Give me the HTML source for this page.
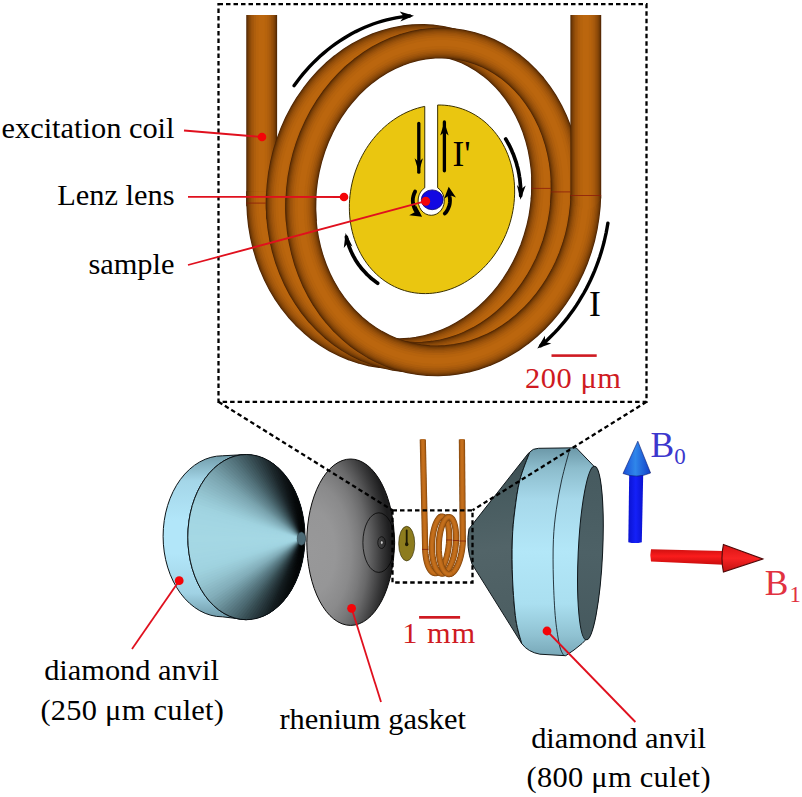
<!DOCTYPE html>
<html><head><meta charset="utf-8"><title>Lenz lens NMR setup</title>
<style>html,body{margin:0;padding:0;background:#fff}svg{display:block}text{font-family:"Liberation Serif",serif}</style></head>
<body>
<svg width="802" height="797" viewBox="0 0 802 797">
<rect width="802" height="797" fill="#fff"/>
<defs>
<linearGradient id="gGirdleL" x1="0" y1="0" x2="0" y2="1">
<stop offset="0" stop-color="#6f9aa8"/><stop offset="0.16" stop-color="#a4d6e8"/><stop offset="0.4" stop-color="#b2e6f9"/><stop offset="0.6" stop-color="#b2e6f9"/><stop offset="0.84" stop-color="#a0d2e4"/><stop offset="1" stop-color="#6c96a4"/>
</linearGradient>
<linearGradient id="gGirdleR" gradientUnits="userSpaceOnUse" x1="0" y1="447" x2="0" y2="656">
<stop offset="0" stop-color="#6a96a6"/><stop offset="0.1" stop-color="#8cbccc"/><stop offset="0.25" stop-color="#a6d8ea"/><stop offset="0.5" stop-color="#b3e7f8"/><stop offset="0.75" stop-color="#aadff0"/><stop offset="0.9" stop-color="#90c2d2"/><stop offset="1" stop-color="#78a8b8"/>
</linearGradient>
<radialGradient id="gGasket" gradientUnits="userSpaceOnUse" cx="312" cy="552" r="78" gradientTransform="translate(312 552) scale(1 1.75) translate(-312 -552)">
<stop offset="0.00" stop-color="#989899"/><stop offset="0.30" stop-color="#969697"/><stop offset="0.50" stop-color="#8a8a8b"/><stop offset="0.62" stop-color="#7a7a7b"/><stop offset="0.72" stop-color="#686869"/><stop offset="0.81" stop-color="#505051"/><stop offset="0.90" stop-color="#373738"/><stop offset="1.00" stop-color="#1e1e1f"/>
</radialGradient>
<linearGradient id="gConeR" gradientUnits="userSpaceOnUse" x1="470" y1="450" x2="500" y2="650">
<stop offset="0" stop-color="#34464a"/><stop offset="0.25" stop-color="#485c60"/><stop offset="0.5" stop-color="#526468"/><stop offset="1" stop-color="#4a5c60"/>
</linearGradient>
<linearGradient id="gTableR" gradientUnits="userSpaceOnUse" x1="0" y1="466" x2="0" y2="640">
<stop offset="0" stop-color="#465a5f"/><stop offset="0.5" stop-color="#4d6166"/><stop offset="1" stop-color="#46595e"/>
</linearGradient>
<linearGradient id="gBlueHead" x1="0" y1="0" x2="1" y2="0">
<stop offset="0" stop-color="#1a4fd8"/><stop offset="0.45" stop-color="#2f86ea"/><stop offset="1" stop-color="#1240c8"/>
</linearGradient>
<linearGradient id="gBlueShaft" x1="0" y1="0" x2="1" y2="0">
<stop offset="0" stop-color="#0a12d0"/><stop offset="0.5" stop-color="#1420f8"/><stop offset="1" stop-color="#0a12d0"/>
</linearGradient>
<linearGradient id="gRedShaft" x1="0" y1="0" x2="0" y2="1">
<stop offset="0" stop-color="#d01010"/><stop offset="0.45" stop-color="#fa1c1c"/><stop offset="1" stop-color="#c80c0c"/>
</linearGradient>
<linearGradient id="gRedHead" x1="0" y1="0" x2="0" y2="1">
<stop offset="0" stop-color="#d81414"/><stop offset="0.5" stop-color="#f82424"/><stop offset="1" stop-color="#c01010"/>
</linearGradient>
</defs>
<path d="M437.65 105.01 L441.25 105.04 L444.84 105.24 L448.40 105.62 L451.92 106.19 L455.41 106.93 L458.86 107.85 L462.25 108.94 L465.59 110.21 L468.86 111.65 L472.06 113.25 L475.18 115.02 L478.23 116.96 L481.18 119.05 L484.04 121.29 L486.80 123.68 L489.45 126.22 L492.00 128.90 L494.42 131.71 L496.73 134.65 L498.92 137.71 L500.98 140.90 L502.90 144.19 L504.69 147.59 L506.34 151.09 L507.85 154.69 L509.21 158.36 L510.43 162.12 L511.49 165.95 L512.41 169.84 L513.17 173.78 L513.77 177.78 L514.22 181.82 L514.51 185.89 L514.64 189.98 L514.61 194.10 L514.42 198.22 L514.08 202.35 L513.58 206.47 L512.92 210.58 L512.11 214.66 L511.15 218.72 L510.03 222.74 L508.77 226.71 L507.35 230.63 L505.80 234.49 L504.10 238.29 L502.26 242.01 L500.29 245.64 L498.19 249.19 L495.96 252.64 L493.61 256.00 L491.14 259.24 L488.56 262.37 L485.87 265.37 L483.07 268.25 L480.18 271.00 L477.20 273.61 L474.13 276.08 L470.98 278.40 L467.75 280.57 L464.46 282.59 L461.10 284.44 L457.69 286.13 L454.23 287.66 L450.72 289.02 L447.18 290.20 L443.61 291.21 L440.02 292.05 L436.42 292.70 L432.80 293.18 L429.19 293.48 L425.58 293.60 L421.98 293.54 L418.40 293.29 L414.84 292.87 L411.32 292.27 L407.84 291.49 L404.41 290.53 L401.03 289.40 L397.70 288.09 L394.45 286.62 L391.26 284.98 L388.15 283.17 L385.13 281.21 L382.20 279.09 L379.36 276.81 L376.62 274.39 L373.99 271.82 L371.47 269.11 L369.07 266.27 L366.79 263.30 L364.63 260.21 L362.60 257.00 L360.70 253.68 L358.94 250.26 L357.32 246.74 L355.84 243.13 L354.51 239.44 L353.33 235.67 L352.30 231.82 L351.42 227.92 L350.69 223.96 L350.12 219.96 L349.71 215.91 L349.45 211.83 L349.36 207.73 L349.42 203.62 L349.64 199.49 L350.01 195.36 L350.55 191.25 L351.24 187.14 L352.08 183.06 L353.08 179.02 L354.23 175.01 L355.53 171.04 L356.97 167.13 L358.56 163.29 L360.29 159.51 L362.15 155.81 L364.15 152.19 L366.28 148.66 L368.54 145.23 L370.91 141.90 L373.41 138.68 L376.01 135.58 L378.73 132.60 L381.54 129.75 L384.45 127.03 L387.45 124.45 L390.54 122.01 L393.71 119.72 L396.95 117.58 L400.26 115.60 L403.63 113.78 L407.05 112.12 L410.52 110.63 L414.03 109.31 L417.58 108.17 L421.16 107.19 L424.75 106.40 L424.75 187.81 A13.10 14.70 0 1 0 437.65 187.81 Z" fill="#eac610" stroke="#3a3000" stroke-width="1" stroke-linejoin="miter"/>
<ellipse cx="432.2" cy="199.8" rx="10.9" ry="9.9" fill="#1208e2" stroke="#0a0470" stroke-width="0.8"/>
<path d="M261.7 206.2 L261.7 15.0" fill="none" stroke="#4c2403" stroke-width="30.82" stroke-linecap="butt" stroke-linejoin="round"/>
<path d="M261.7 206.2 L261.7 15.0" fill="none" stroke="#623105" stroke-width="29.58" stroke-linecap="butt" stroke-linejoin="round"/>
<path d="M261.7 206.2 L261.7 15.0" fill="none" stroke="#723b07" stroke-width="28.04" stroke-linecap="butt" stroke-linejoin="round"/>
<path d="M261.7 206.2 L261.7 15.0" fill="none" stroke="#814408" stroke-width="26.19" stroke-linecap="butt" stroke-linejoin="round"/>
<path d="M261.7 206.2 L261.7 15.0" fill="none" stroke="#8e4b09" stroke-width="24.04" stroke-linecap="butt" stroke-linejoin="round"/>
<path d="M261.7 206.2 L261.7 15.0" fill="none" stroke="#9a520b" stroke-width="21.57" stroke-linecap="butt" stroke-linejoin="round"/>
<path d="M261.7 206.2 L261.7 15.0" fill="none" stroke="#a4580c" stroke-width="18.80" stroke-linecap="butt" stroke-linejoin="round"/>
<path d="M261.7 206.2 L261.7 15.0" fill="none" stroke="#ae5e0d" stroke-width="15.41" stroke-linecap="butt" stroke-linejoin="round"/>
<path d="M261.7 206.2 L261.7 15.0" fill="none" stroke="#b6630d" stroke-width="11.40" stroke-linecap="butt" stroke-linejoin="round"/>
<path d="M261.7 206.2 L261.7 15.0" fill="none" stroke="#bb660e" stroke-width="6.16" stroke-linecap="butt" stroke-linejoin="round"/>
<path d="M546.6 176.5 L546.7 187.1 L546.3 197.6 L545.2 208.2 L543.6 218.6 L541.3 229.0 L538.4 239.3 L535.0 249.3 L530.9 259.2 L526.4 268.7 L521.2 277.9 L515.6 286.8 L509.5 295.2 L502.9 303.2 L495.9 310.7 L488.5 317.7 L480.7 324.1 L472.6 330.0 L464.2 335.3 L455.5 340.0 L446.6 344.0 L437.5 347.3 L428.2 350.0 L418.9 351.9 L409.5 353.2 L400.1 353.7 L390.6 353.6 L381.3 352.7 L372.0 351.2 L362.9 348.9 L354.0 345.9 L345.3 342.3 L336.8 338.0 L328.7 333.1 L320.8 327.6 L313.4 321.4 L306.3 314.7 L299.7 307.5 L293.5 299.7 L287.8 291.5 L282.6 282.9 L278.0 273.8 L273.9 264.4 L270.4 254.7 L267.4 244.7 L265.1 234.6 L263.3 224.2 L262.2 213.7 L261.7 203.1 L261.7 191.2" fill="none" stroke="#4c2403" stroke-width="30.82" stroke-linecap="butt" stroke-linejoin="round"/>
<path d="M546.6 176.5 L546.7 187.1 L546.3 197.6 L545.2 208.2 L543.6 218.6 L541.3 229.0 L538.4 239.3 L535.0 249.3 L530.9 259.2 L526.4 268.7 L521.2 277.9 L515.6 286.8 L509.5 295.2 L502.9 303.2 L495.9 310.7 L488.5 317.7 L480.7 324.1 L472.6 330.0 L464.2 335.3 L455.5 340.0 L446.6 344.0 L437.5 347.3 L428.2 350.0 L418.9 351.9 L409.5 353.2 L400.1 353.7 L390.6 353.6 L381.3 352.7 L372.0 351.2 L362.9 348.9 L354.0 345.9 L345.3 342.3 L336.8 338.0 L328.7 333.1 L320.8 327.6 L313.4 321.4 L306.3 314.7 L299.7 307.5 L293.5 299.7 L287.8 291.5 L282.6 282.9 L278.0 273.8 L273.9 264.4 L270.4 254.7 L267.4 244.7 L265.1 234.6 L263.3 224.2 L262.2 213.7 L261.7 203.1 L261.7 191.2" fill="none" stroke="#623105" stroke-width="29.58" stroke-linecap="butt" stroke-linejoin="round"/>
<path d="M546.6 176.5 L546.7 187.1 L546.3 197.6 L545.2 208.2 L543.6 218.6 L541.3 229.0 L538.4 239.3 L535.0 249.3 L530.9 259.2 L526.4 268.7 L521.2 277.9 L515.6 286.8 L509.5 295.2 L502.9 303.2 L495.9 310.7 L488.5 317.7 L480.7 324.1 L472.6 330.0 L464.2 335.3 L455.5 340.0 L446.6 344.0 L437.5 347.3 L428.2 350.0 L418.9 351.9 L409.5 353.2 L400.1 353.7 L390.6 353.6 L381.3 352.7 L372.0 351.2 L362.9 348.9 L354.0 345.9 L345.3 342.3 L336.8 338.0 L328.7 333.1 L320.8 327.6 L313.4 321.4 L306.3 314.7 L299.7 307.5 L293.5 299.7 L287.8 291.5 L282.6 282.9 L278.0 273.8 L273.9 264.4 L270.4 254.7 L267.4 244.7 L265.1 234.6 L263.3 224.2 L262.2 213.7 L261.7 203.1 L261.7 191.2" fill="none" stroke="#723b07" stroke-width="28.04" stroke-linecap="butt" stroke-linejoin="round"/>
<path d="M546.6 176.5 L546.7 187.1 L546.3 197.6 L545.2 208.2 L543.6 218.6 L541.3 229.0 L538.4 239.3 L535.0 249.3 L530.9 259.2 L526.4 268.7 L521.2 277.9 L515.6 286.8 L509.5 295.2 L502.9 303.2 L495.9 310.7 L488.5 317.7 L480.7 324.1 L472.6 330.0 L464.2 335.3 L455.5 340.0 L446.6 344.0 L437.5 347.3 L428.2 350.0 L418.9 351.9 L409.5 353.2 L400.1 353.7 L390.6 353.6 L381.3 352.7 L372.0 351.2 L362.9 348.9 L354.0 345.9 L345.3 342.3 L336.8 338.0 L328.7 333.1 L320.8 327.6 L313.4 321.4 L306.3 314.7 L299.7 307.5 L293.5 299.7 L287.8 291.5 L282.6 282.9 L278.0 273.8 L273.9 264.4 L270.4 254.7 L267.4 244.7 L265.1 234.6 L263.3 224.2 L262.2 213.7 L261.7 203.1 L261.7 191.2" fill="none" stroke="#814408" stroke-width="26.19" stroke-linecap="butt" stroke-linejoin="round"/>
<path d="M546.6 176.5 L546.7 187.1 L546.3 197.6 L545.2 208.2 L543.6 218.6 L541.3 229.0 L538.4 239.3 L535.0 249.3 L530.9 259.2 L526.4 268.7 L521.2 277.9 L515.6 286.8 L509.5 295.2 L502.9 303.2 L495.9 310.7 L488.5 317.7 L480.7 324.1 L472.6 330.0 L464.2 335.3 L455.5 340.0 L446.6 344.0 L437.5 347.3 L428.2 350.0 L418.9 351.9 L409.5 353.2 L400.1 353.7 L390.6 353.6 L381.3 352.7 L372.0 351.2 L362.9 348.9 L354.0 345.9 L345.3 342.3 L336.8 338.0 L328.7 333.1 L320.8 327.6 L313.4 321.4 L306.3 314.7 L299.7 307.5 L293.5 299.7 L287.8 291.5 L282.6 282.9 L278.0 273.8 L273.9 264.4 L270.4 254.7 L267.4 244.7 L265.1 234.6 L263.3 224.2 L262.2 213.7 L261.7 203.1 L261.7 191.2" fill="none" stroke="#8e4b09" stroke-width="24.04" stroke-linecap="butt" stroke-linejoin="round"/>
<path d="M546.6 176.5 L546.7 187.1 L546.3 197.6 L545.2 208.2 L543.6 218.6 L541.3 229.0 L538.4 239.3 L535.0 249.3 L530.9 259.2 L526.4 268.7 L521.2 277.9 L515.6 286.8 L509.5 295.2 L502.9 303.2 L495.9 310.7 L488.5 317.7 L480.7 324.1 L472.6 330.0 L464.2 335.3 L455.5 340.0 L446.6 344.0 L437.5 347.3 L428.2 350.0 L418.9 351.9 L409.5 353.2 L400.1 353.7 L390.6 353.6 L381.3 352.7 L372.0 351.2 L362.9 348.9 L354.0 345.9 L345.3 342.3 L336.8 338.0 L328.7 333.1 L320.8 327.6 L313.4 321.4 L306.3 314.7 L299.7 307.5 L293.5 299.7 L287.8 291.5 L282.6 282.9 L278.0 273.8 L273.9 264.4 L270.4 254.7 L267.4 244.7 L265.1 234.6 L263.3 224.2 L262.2 213.7 L261.7 203.1 L261.7 191.2" fill="none" stroke="#9a520b" stroke-width="21.57" stroke-linecap="butt" stroke-linejoin="round"/>
<path d="M546.6 176.5 L546.7 187.1 L546.3 197.6 L545.2 208.2 L543.6 218.6 L541.3 229.0 L538.4 239.3 L535.0 249.3 L530.9 259.2 L526.4 268.7 L521.2 277.9 L515.6 286.8 L509.5 295.2 L502.9 303.2 L495.9 310.7 L488.5 317.7 L480.7 324.1 L472.6 330.0 L464.2 335.3 L455.5 340.0 L446.6 344.0 L437.5 347.3 L428.2 350.0 L418.9 351.9 L409.5 353.2 L400.1 353.7 L390.6 353.6 L381.3 352.7 L372.0 351.2 L362.9 348.9 L354.0 345.9 L345.3 342.3 L336.8 338.0 L328.7 333.1 L320.8 327.6 L313.4 321.4 L306.3 314.7 L299.7 307.5 L293.5 299.7 L287.8 291.5 L282.6 282.9 L278.0 273.8 L273.9 264.4 L270.4 254.7 L267.4 244.7 L265.1 234.6 L263.3 224.2 L262.2 213.7 L261.7 203.1 L261.7 191.2" fill="none" stroke="#a4580c" stroke-width="18.80" stroke-linecap="butt" stroke-linejoin="round"/>
<path d="M546.6 176.5 L546.7 187.1 L546.3 197.6 L545.2 208.2 L543.6 218.6 L541.3 229.0 L538.4 239.3 L535.0 249.3 L530.9 259.2 L526.4 268.7 L521.2 277.9 L515.6 286.8 L509.5 295.2 L502.9 303.2 L495.9 310.7 L488.5 317.7 L480.7 324.1 L472.6 330.0 L464.2 335.3 L455.5 340.0 L446.6 344.0 L437.5 347.3 L428.2 350.0 L418.9 351.9 L409.5 353.2 L400.1 353.7 L390.6 353.6 L381.3 352.7 L372.0 351.2 L362.9 348.9 L354.0 345.9 L345.3 342.3 L336.8 338.0 L328.7 333.1 L320.8 327.6 L313.4 321.4 L306.3 314.7 L299.7 307.5 L293.5 299.7 L287.8 291.5 L282.6 282.9 L278.0 273.8 L273.9 264.4 L270.4 254.7 L267.4 244.7 L265.1 234.6 L263.3 224.2 L262.2 213.7 L261.7 203.1 L261.7 191.2" fill="none" stroke="#ae5e0d" stroke-width="15.41" stroke-linecap="butt" stroke-linejoin="round"/>
<path d="M546.6 176.5 L546.7 187.1 L546.3 197.6 L545.2 208.2 L543.6 218.6 L541.3 229.0 L538.4 239.3 L535.0 249.3 L530.9 259.2 L526.4 268.7 L521.2 277.9 L515.6 286.8 L509.5 295.2 L502.9 303.2 L495.9 310.7 L488.5 317.7 L480.7 324.1 L472.6 330.0 L464.2 335.3 L455.5 340.0 L446.6 344.0 L437.5 347.3 L428.2 350.0 L418.9 351.9 L409.5 353.2 L400.1 353.7 L390.6 353.6 L381.3 352.7 L372.0 351.2 L362.9 348.9 L354.0 345.9 L345.3 342.3 L336.8 338.0 L328.7 333.1 L320.8 327.6 L313.4 321.4 L306.3 314.7 L299.7 307.5 L293.5 299.7 L287.8 291.5 L282.6 282.9 L278.0 273.8 L273.9 264.4 L270.4 254.7 L267.4 244.7 L265.1 234.6 L263.3 224.2 L262.2 213.7 L261.7 203.1 L261.7 191.2" fill="none" stroke="#b6630d" stroke-width="11.40" stroke-linecap="butt" stroke-linejoin="round"/>
<path d="M546.6 176.5 L546.7 187.1 L546.3 197.6 L545.2 208.2 L543.6 218.6 L541.3 229.0 L538.4 239.3 L535.0 249.3 L530.9 259.2 L526.4 268.7 L521.2 277.9 L515.6 286.8 L509.5 295.2 L502.9 303.2 L495.9 310.7 L488.5 317.7 L480.7 324.1 L472.6 330.0 L464.2 335.3 L455.5 340.0 L446.6 344.0 L437.5 347.3 L428.2 350.0 L418.9 351.9 L409.5 353.2 L400.1 353.7 L390.6 353.6 L381.3 352.7 L372.0 351.2 L362.9 348.9 L354.0 345.9 L345.3 342.3 L336.8 338.0 L328.7 333.1 L320.8 327.6 L313.4 321.4 L306.3 314.7 L299.7 307.5 L293.5 299.7 L287.8 291.5 L282.6 282.9 L278.0 273.8 L273.9 264.4 L270.4 254.7 L267.4 244.7 L265.1 234.6 L263.3 224.2 L262.2 213.7 L261.7 203.1 L261.7 191.2" fill="none" stroke="#bb660e" stroke-width="6.16" stroke-linecap="butt" stroke-linejoin="round"/>
<path d="M281.8 218.5 L281.2 207.7 L281.3 196.8 L282.0 186.0 L283.3 175.1 L285.3 164.4 L287.8 153.9 L291.1 143.6 L294.9 133.5 L299.2 123.7 L304.2 114.3 L309.6 105.3 L315.6 96.7 L322.0 88.5 L328.9 80.9 L336.2 73.9 L343.9 67.4 L351.9 61.6 L360.2 56.3 L368.7 51.8 L377.5 47.9 L386.5 44.8 L395.6 42.3 L404.7 40.6 L414.0 39.6 L423.2 39.4 L432.4 39.9 L441.4 41.2 L450.4 43.2 L459.2 45.9 L467.7 49.3 L476.0 53.4 L484.1 58.2 L491.7 63.7 L499.0 69.7 L505.9 76.4 L512.3 83.7 L518.3 91.4 L523.8 99.7 L528.7 108.4 L533.1 117.6 L536.9 127.1 L540.1 137.0 L542.7 147.1 L544.6 157.4 L546.0 168.0 L546.7 178.7 L546.7 189.4 L546.1 200.2" fill="none" stroke="#4c2403" stroke-width="30.82" stroke-linecap="butt" stroke-linejoin="round"/>
<path d="M281.8 218.5 L281.2 207.7 L281.3 196.8 L282.0 185.9 L283.3 175.0 L285.3 164.3 L287.9 153.8 L291.1 143.4 L294.9 133.3 L299.3 123.5 L304.3 114.1 L309.8 105.0 L315.8 96.4 L322.2 88.3 L329.1 80.7 L336.5 73.7 L344.2 67.2 L352.2 61.3 L360.5 56.1 L369.1 51.6 L377.9 47.8 L386.9 44.6 L396.0 42.2 L405.2 40.5 L414.5 39.6 L423.7 39.4 L432.9 40.0 L442.0 41.3 L451.0 43.3 L459.8 46.1 L468.3 49.6 L476.6 53.7 L484.6 58.6 L492.3 64.1 L499.6 70.2 L506.4 77.0 L512.8 84.3 L518.8 92.1 L524.2 100.4 L529.1 109.2 L533.4 118.4 L537.2 128.0 L540.3 137.9 L542.9 148.1 L544.8 158.5 L546.1 169.1 L546.7 179.8 L546.7 190.6 L546.0 201.4" fill="none" stroke="#623105" stroke-width="29.58" stroke-linecap="butt" stroke-linejoin="round"/>
<path d="M281.8 218.5 L281.2 207.7 L281.3 196.7 L282.0 185.8 L283.3 174.9 L285.3 164.2 L287.9 153.6 L291.2 143.2 L295.0 133.1 L299.4 123.3 L304.4 113.9 L309.9 104.8 L315.9 96.2 L322.4 88.1 L329.4 80.5 L336.7 73.4 L344.4 67.0 L352.5 61.1 L360.9 55.9 L369.5 51.4 L378.3 47.6 L387.3 44.5 L396.5 42.1 L405.7 40.5 L415.0 39.6 L424.2 39.4 L433.4 40.0 L442.6 41.4 L451.5 43.5 L460.3 46.3 L468.9 49.8 L477.2 54.1 L485.2 59.0 L492.8 64.5 L500.1 70.7 L507.0 77.5 L513.4 84.9 L519.3 92.8 L524.7 101.2 L529.5 110.0 L533.8 119.3 L537.5 128.9 L540.6 138.9 L543.1 149.1 L544.9 159.6 L546.2 170.2 L546.7 180.9 L546.6 191.8 L545.9 202.6" fill="none" stroke="#723b07" stroke-width="28.04" stroke-linecap="butt" stroke-linejoin="round"/>
<path d="M281.8 218.5 L281.2 207.6 L281.3 196.7 L282.0 185.7 L283.3 174.8 L285.3 164.1 L288.0 153.5 L291.2 143.1 L295.1 132.9 L299.5 123.1 L304.5 113.7 L310.1 104.6 L316.1 96.0 L322.6 87.8 L329.6 80.2 L337.0 73.2 L344.7 66.7 L352.8 60.9 L361.2 55.7 L369.9 51.2 L378.7 47.4 L387.8 44.4 L396.9 42.0 L406.2 40.4 L415.5 39.5 L424.8 39.4 L434.0 40.1 L443.1 41.5 L452.1 43.6 L460.9 46.5 L469.5 50.1 L477.8 54.4 L485.8 59.4 L493.4 65.0 L500.7 71.2 L507.5 78.1 L513.9 85.5 L519.7 93.5 L525.1 101.9 L529.9 110.9 L534.2 120.2 L537.8 129.9 L540.9 139.9 L543.3 150.1 L545.1 160.6 L546.2 171.3 L546.7 182.1 L546.6 192.9 L545.8 203.8" fill="none" stroke="#814408" stroke-width="26.19" stroke-linecap="butt" stroke-linejoin="round"/>
<path d="M281.8 218.5 L281.2 207.6 L281.3 196.6 L282.0 185.7 L283.3 174.8 L285.4 164.0 L288.0 153.3 L291.3 142.9 L295.2 132.8 L299.6 122.9 L304.6 113.4 L310.2 104.4 L316.3 95.7 L322.8 87.6 L329.8 80.0 L337.2 73.0 L345.0 66.5 L353.1 60.7 L361.6 55.5 L370.3 51.1 L379.1 47.3 L388.2 44.2 L397.4 41.9 L406.7 40.3 L416.0 39.5 L425.3 39.5 L434.5 40.1 L443.7 41.6 L452.7 43.8 L461.5 46.7 L470.1 50.4 L478.4 54.7 L486.3 59.7 L494.0 65.4 L501.2 71.8 L508.0 78.7 L514.4 86.2 L520.2 94.2 L525.5 102.7 L530.3 111.7 L534.5 121.0 L538.1 130.8 L541.1 140.8 L543.5 151.1 L545.2 161.7 L546.3 172.4 L546.8 183.2 L546.5 194.1 L545.6 205.0" fill="none" stroke="#8e4b09" stroke-width="24.04" stroke-linecap="butt" stroke-linejoin="round"/>
<path d="M281.8 218.5 L281.2 207.6 L281.3 196.6 L282.0 185.6 L283.4 174.7 L285.4 163.8 L288.0 153.2 L291.3 142.7 L295.2 132.6 L299.7 122.7 L304.8 113.2 L310.3 104.1 L316.4 95.5 L323.0 87.4 L330.0 79.8 L337.5 72.7 L345.3 66.3 L353.5 60.5 L361.9 55.3 L370.6 50.9 L379.6 47.1 L388.7 44.1 L397.9 41.8 L407.2 40.3 L416.5 39.5 L425.8 39.5 L435.1 40.2 L444.2 41.7 L453.2 43.9 L462.1 46.9 L470.6 50.6 L478.9 55.0 L486.9 60.1 L494.5 65.9 L501.7 72.3 L508.5 79.3 L514.9 86.8 L520.7 94.9 L526.0 103.5 L530.7 112.5 L534.9 121.9 L538.4 131.7 L541.4 141.8 L543.7 152.2 L545.4 162.8 L546.4 173.5 L546.8 184.4 L546.5 195.3 L545.5 206.2" fill="none" stroke="#9a520b" stroke-width="21.57" stroke-linecap="butt" stroke-linejoin="round"/>
<path d="M281.8 218.5 L281.2 207.6 L281.3 196.5 L282.0 185.5 L283.4 174.6 L285.4 163.7 L288.1 153.0 L291.4 142.6 L295.3 132.4 L299.8 122.5 L304.9 113.0 L310.5 103.9 L316.6 95.3 L323.2 87.1 L330.3 79.5 L337.8 72.5 L345.6 66.1 L353.8 60.3 L362.3 55.2 L371.0 50.7 L380.0 47.0 L389.1 44.0 L398.3 41.7 L407.7 40.2 L417.0 39.5 L426.3 39.5 L435.6 40.3 L444.8 41.8 L453.8 44.1 L462.6 47.1 L471.2 50.9 L479.5 55.4 L487.5 60.5 L495.1 66.3 L502.3 72.8 L509.1 79.8 L515.4 87.4 L521.1 95.6 L526.4 104.2 L531.1 113.3 L535.2 122.8 L538.7 132.6 L541.6 142.8 L543.9 153.2 L545.5 163.8 L546.5 174.6 L546.8 185.5 L546.4 196.4 L545.3 207.4" fill="none" stroke="#a4580c" stroke-width="18.80" stroke-linecap="butt" stroke-linejoin="round"/>
<path d="M281.8 218.5 L281.2 207.5 L281.3 196.5 L282.0 185.4 L283.4 174.5 L285.4 163.6 L288.1 152.9 L291.5 142.4 L295.4 132.2 L299.9 122.3 L305.0 112.8 L310.6 103.7 L316.8 95.1 L323.4 86.9 L330.5 79.3 L338.0 72.3 L345.9 65.9 L354.1 60.1 L362.6 55.0 L371.4 50.5 L380.4 46.8 L389.5 43.9 L398.8 41.6 L408.1 40.2 L417.5 39.5 L426.9 39.5 L436.2 40.3 L445.3 41.9 L454.4 44.3 L463.2 47.4 L471.8 51.2 L480.1 55.7 L488.0 60.9 L495.6 66.8 L502.8 73.3 L509.6 80.4 L515.8 88.1 L521.6 96.3 L526.8 105.0 L531.5 114.1 L535.6 123.7 L539.0 133.6 L541.9 143.8 L544.1 154.2 L545.6 164.9 L546.5 175.7 L546.8 186.6 L546.3 197.6 L545.2 208.6" fill="none" stroke="#ae5e0d" stroke-width="15.41" stroke-linecap="butt" stroke-linejoin="round"/>
<path d="M281.8 218.5 L281.2 207.5 L281.3 196.4 L282.0 185.4 L283.4 174.4 L285.5 163.5 L288.2 152.8 L291.5 142.3 L295.5 132.0 L300.0 122.1 L305.1 112.6 L310.8 103.5 L317.0 94.8 L323.6 86.7 L330.7 79.1 L338.3 72.0 L346.2 65.6 L354.4 59.9 L363.0 54.8 L371.8 50.4 L380.8 46.7 L390.0 43.7 L399.3 41.5 L408.6 40.1 L418.0 39.4 L427.4 39.5 L436.7 40.4 L445.9 42.1 L454.9 44.5 L463.8 47.6 L472.4 51.5 L480.6 56.1 L488.6 61.3 L496.2 67.3 L503.4 73.8 L510.1 81.0 L516.3 88.7 L522.1 97.0 L527.3 105.8 L531.9 114.9 L535.9 124.5 L539.3 134.5 L542.1 144.7 L544.3 155.3 L545.8 166.0 L546.6 176.8 L546.7 187.8 L546.2 198.8 L545.0 209.8" fill="none" stroke="#b6630d" stroke-width="11.40" stroke-linecap="butt" stroke-linejoin="round"/>
<path d="M281.8 218.5 L281.2 207.5 L281.3 196.4 L282.0 185.3 L283.4 174.3 L285.5 163.3 L288.2 152.6 L291.6 142.1 L295.5 131.8 L300.1 121.9 L305.2 112.4 L310.9 103.3 L317.1 94.6 L323.8 86.5 L331.0 78.8 L338.5 71.8 L346.5 65.4 L354.8 59.7 L363.3 54.6 L372.2 50.2 L381.2 46.5 L390.4 43.6 L399.7 41.5 L409.1 40.1 L418.5 39.4 L427.9 39.6 L437.3 40.5 L446.5 42.2 L455.5 44.6 L464.3 47.8 L472.9 51.8 L481.2 56.4 L489.2 61.7 L496.7 67.7 L503.9 74.4 L510.6 81.6 L516.8 89.4 L522.5 97.7 L527.7 106.5 L532.3 115.8 L536.2 125.4 L539.6 135.4 L542.4 145.7 L544.4 156.3 L545.9 167.0 L546.6 177.9 L546.7 188.9 L546.1 199.9 L544.9 210.9" fill="none" stroke="#bb660e" stroke-width="6.16" stroke-linecap="butt" stroke-linejoin="round"/>
<path d="M566.1 180.1 L566.3 190.8 L565.8 201.6 L564.7 212.4 L562.9 223.2 L560.5 233.8 L557.5 244.3 L553.9 254.5 L549.7 264.5 L544.9 274.2 L539.5 283.6 L533.6 292.5 L527.2 301.0 L520.4 309.1 L513.0 316.6 L505.3 323.6 L497.2 330.0 L488.8 335.7 L480.1 340.9 L471.1 345.4 L461.9 349.2 L452.5 352.2 L443.0 354.6 L433.4 356.2 L423.7 357.1 L414.1 357.3 L404.5 356.7 L395.0 355.4 L385.6 353.3 L376.4 350.5 L367.4 347.0 L358.7 342.8 L350.2 337.9 L342.1 332.4 L334.4 326.3 L327.1 319.5 L320.2 312.2 L313.8 304.3 L308.0 296.0 L302.6 287.2 L297.8 277.9 L293.6 268.3 L289.9 258.4 L286.9 248.2 L284.5 237.8 L282.8 227.2 L281.6 216.4 L281.2 205.5 L281.3 194.7" fill="none" stroke="#4c2403" stroke-width="30.82" stroke-linecap="butt" stroke-linejoin="round"/>
<path d="M566.1 180.1 L566.3 190.9 L565.8 201.7 L564.7 212.5 L562.9 223.3 L560.5 233.9 L557.5 244.4 L553.8 254.7 L549.6 264.7 L544.7 274.4 L539.4 283.8 L533.5 292.7 L527.0 301.3 L520.1 309.3 L512.8 316.8 L505.1 323.8 L496.9 330.2 L488.5 336.0 L479.7 341.1 L470.7 345.5 L461.4 349.3 L452.0 352.4 L442.5 354.7 L432.9 356.3 L423.2 357.2 L413.5 357.3 L403.9 356.6 L394.4 355.3 L385.0 353.1 L375.8 350.3 L366.8 346.7 L358.0 342.5 L349.6 337.6 L341.5 332.0 L333.8 325.8 L326.5 318.9 L319.7 311.6 L313.3 303.6 L307.5 295.2 L302.1 286.4 L297.4 277.1 L293.2 267.4 L289.6 257.5 L286.7 247.2 L284.3 236.7 L282.6 226.0 L281.6 215.2 L281.2 204.4 L281.4 193.5" fill="none" stroke="#623105" stroke-width="29.58" stroke-linecap="butt" stroke-linejoin="round"/>
<path d="M566.1 180.1 L566.3 190.9 L565.8 201.7 L564.7 212.6 L562.9 223.4 L560.5 234.0 L557.4 244.5 L553.8 254.8 L549.5 264.9 L544.6 274.6 L539.2 284.0 L533.3 293.0 L526.9 301.5 L519.9 309.5 L512.6 317.1 L504.8 324.0 L496.6 330.4 L488.1 336.2 L479.3 341.3 L470.3 345.7 L461.0 349.5 L451.6 352.5 L442.0 354.8 L432.4 356.4 L422.7 357.2 L413.0 357.3 L403.3 356.6 L393.8 355.2 L384.4 353.0 L375.2 350.1 L366.2 346.5 L357.4 342.2 L349.0 337.2 L340.9 331.5 L333.2 325.2 L326.0 318.4 L319.1 310.9 L312.8 302.9 L307.0 294.5 L301.7 285.5 L297.0 276.2 L292.8 266.5 L289.3 256.5 L286.4 246.2 L284.1 235.6 L282.5 224.9 L281.5 214.1 L281.2 203.2 L281.5 192.3" fill="none" stroke="#723b07" stroke-width="28.04" stroke-linecap="butt" stroke-linejoin="round"/>
<path d="M566.1 180.1 L566.3 190.9 L565.8 201.8 L564.7 212.7 L562.9 223.5 L560.4 234.2 L557.4 244.7 L553.7 255.0 L549.4 265.1 L544.5 274.8 L539.1 284.2 L533.1 293.2 L526.7 301.7 L519.7 309.8 L512.3 317.3 L504.5 324.3 L496.3 330.6 L487.8 336.4 L479.0 341.5 L469.9 345.9 L460.6 349.6 L451.1 352.6 L441.5 354.9 L431.8 356.4 L422.1 357.2 L412.4 357.2 L402.8 356.5 L393.2 355.0 L383.8 352.8 L374.6 349.9 L365.6 346.2 L356.8 341.8 L348.4 336.8 L340.3 331.1 L332.7 324.7 L325.4 317.8 L318.6 310.3 L312.3 302.2 L306.5 293.7 L301.3 284.7 L296.6 275.3 L292.5 265.6 L289.0 255.5 L286.1 245.1 L283.9 234.6 L282.3 223.8 L281.4 213.0 L281.2 202.0 L281.5 191.1" fill="none" stroke="#814408" stroke-width="26.19" stroke-linecap="butt" stroke-linejoin="round"/>
<path d="M566.1 180.1 L566.3 190.9 L565.8 201.8 L564.6 212.7 L562.9 223.6 L560.4 234.3 L557.3 244.8 L553.6 255.2 L549.3 265.2 L544.4 275.0 L539.0 284.4 L533.0 293.4 L526.5 301.9 L519.5 310.0 L512.1 317.5 L504.2 324.5 L496.0 330.9 L487.5 336.6 L478.6 341.7 L469.5 346.1 L460.2 349.8 L450.7 352.7 L441.0 355.0 L431.3 356.5 L421.6 357.2 L411.9 357.2 L402.2 356.4 L392.6 354.9 L383.2 352.7 L374.0 349.7 L364.9 345.9 L356.2 341.5 L347.8 336.4 L339.7 330.6 L332.1 324.2 L324.8 317.2 L318.1 309.6 L311.8 301.5 L306.0 293.0 L300.8 283.9 L296.2 274.5 L292.1 264.6 L288.7 254.5 L285.9 244.1 L283.7 233.5 L282.2 222.7 L281.4 211.8 L281.2 200.8 L281.6 189.9" fill="none" stroke="#8e4b09" stroke-width="24.04" stroke-linecap="butt" stroke-linejoin="round"/>
<path d="M566.1 180.1 L566.3 191.0 L565.8 201.9 L564.6 212.8 L562.8 223.7 L560.4 234.4 L557.3 245.0 L553.6 255.3 L549.2 265.4 L544.3 275.2 L538.8 284.6 L532.8 293.6 L526.3 302.2 L519.3 310.2 L511.8 317.8 L504.0 324.7 L495.7 331.1 L487.1 336.8 L478.2 341.9 L469.1 346.2 L459.7 349.9 L450.2 352.9 L440.6 355.1 L430.8 356.5 L421.1 357.2 L411.3 357.2 L401.6 356.4 L392.0 354.8 L382.6 352.5 L373.4 349.4 L364.3 345.6 L355.6 341.2 L347.2 336.0 L339.2 330.2 L331.5 323.7 L324.3 316.6 L317.5 309.0 L311.3 300.8 L305.6 292.2 L300.4 283.1 L295.8 273.6 L291.8 263.7 L288.4 253.5 L285.7 243.1 L283.6 232.4 L282.1 221.6 L281.3 210.7 L281.2 199.7 L281.7 188.7" fill="none" stroke="#9a520b" stroke-width="21.57" stroke-linecap="butt" stroke-linejoin="round"/>
<path d="M566.1 180.1 L566.3 191.0 L565.8 201.9 L564.6 212.9 L562.8 223.8 L560.3 234.5 L557.2 245.1 L553.5 255.5 L549.2 265.6 L544.2 275.4 L538.7 284.8 L532.7 293.8 L526.1 302.4 L519.1 310.5 L511.6 318.0 L503.7 324.9 L495.4 331.3 L486.8 337.0 L477.9 342.1 L468.7 346.4 L459.3 350.1 L449.8 353.0 L440.1 355.2 L430.3 356.6 L420.5 357.3 L410.8 357.2 L401.1 356.3 L391.5 354.7 L382.0 352.3 L372.8 349.2 L363.7 345.4 L355.0 340.8 L346.6 335.6 L338.6 329.7 L330.9 323.2 L323.7 316.0 L317.0 308.4 L310.8 300.1 L305.1 291.4 L299.9 282.3 L295.4 272.7 L291.4 262.8 L288.1 252.5 L285.4 242.1 L283.4 231.4 L282.0 220.5 L281.3 209.5 L281.2 198.5 L281.8 187.5" fill="none" stroke="#a4580c" stroke-width="18.80" stroke-linecap="butt" stroke-linejoin="round"/>
<path d="M566.1 180.1 L566.3 191.0 L565.8 202.0 L564.6 213.0 L562.8 223.9 L560.3 234.6 L557.2 245.3 L553.4 255.7 L549.1 265.8 L544.1 275.6 L538.6 285.0 L532.5 294.1 L525.9 302.6 L518.9 310.7 L511.3 318.2 L503.4 325.2 L495.1 331.5 L486.4 337.2 L477.5 342.3 L468.3 346.6 L458.9 350.2 L449.3 353.1 L439.6 355.3 L429.8 356.7 L420.0 357.3 L410.2 357.1 L400.5 356.2 L390.9 354.6 L381.4 352.1 L372.2 349.0 L363.1 345.1 L354.4 340.5 L346.0 335.2 L338.0 329.2 L330.4 322.6 L323.2 315.5 L316.5 307.7 L310.3 299.4 L304.6 290.7 L299.5 281.4 L295.0 271.8 L291.1 261.8 L287.8 251.6 L285.2 241.0 L283.2 230.3 L281.9 219.4 L281.2 208.4 L281.2 197.3 L281.9 186.3" fill="none" stroke="#ae5e0d" stroke-width="15.41" stroke-linecap="butt" stroke-linejoin="round"/>
<path d="M566.1 180.1 L566.3 191.0 L565.8 202.0 L564.6 213.0 L562.8 224.0 L560.3 234.8 L557.1 245.4 L553.4 255.8 L549.0 266.0 L544.0 275.8 L538.5 285.2 L532.4 294.3 L525.7 302.8 L518.6 310.9 L511.1 318.4 L503.1 325.4 L494.8 331.7 L486.1 337.4 L477.1 342.4 L467.9 346.8 L458.4 350.4 L448.8 353.2 L439.1 355.3 L429.3 356.7 L419.5 357.3 L409.7 357.1 L399.9 356.2 L390.3 354.4 L380.8 352.0 L371.6 348.7 L362.5 344.8 L353.8 340.1 L345.4 334.8 L337.4 328.8 L329.8 322.1 L322.6 314.9 L316.0 307.0 L309.8 298.7 L304.2 289.9 L299.1 280.6 L294.6 270.9 L290.8 260.9 L287.6 250.6 L285.0 240.0 L283.1 229.2 L281.8 218.3 L281.2 207.2 L281.3 196.2 L282.0 185.1" fill="none" stroke="#b6630d" stroke-width="11.40" stroke-linecap="butt" stroke-linejoin="round"/>
<path d="M566.1 180.1 L566.3 191.1 L565.8 202.1 L564.6 213.1 L562.8 224.1 L560.2 234.9 L557.1 245.5 L553.3 256.0 L548.9 266.1 L543.9 276.0 L538.3 285.4 L532.2 294.5 L525.6 303.1 L518.4 311.1 L510.9 318.7 L502.9 325.6 L494.5 331.9 L485.8 337.6 L476.8 342.6 L467.5 346.9 L458.0 350.5 L448.4 353.4 L438.6 355.4 L428.8 356.8 L418.9 357.3 L409.1 357.1 L399.3 356.1 L389.7 354.3 L380.2 351.8 L371.0 348.5 L361.9 344.5 L353.2 339.8 L344.8 334.4 L336.8 328.3 L329.2 321.6 L322.1 314.3 L315.4 306.4 L309.3 298.0 L303.7 289.1 L298.7 279.8 L294.3 270.0 L290.5 260.0 L287.3 249.6 L284.8 238.9 L282.9 228.1 L281.7 217.1 L281.2 206.1 L281.3 195.0 L282.2 183.9" fill="none" stroke="#bb660e" stroke-width="6.16" stroke-linecap="butt" stroke-linejoin="round"/>
<path d="M301.4 222.1 L300.8 211.2 L300.8 200.4 L301.5 189.5 L302.8 178.7 L304.8 168.0 L307.4 157.4 L310.6 147.1 L314.4 137.0 L318.8 127.3 L323.7 117.8 L329.2 108.8 L335.1 100.2 L341.6 92.1 L348.4 84.5 L355.7 77.4 L363.4 71.0 L371.4 65.1 L379.7 59.9 L388.3 55.3 L397.1 51.5 L406.0 48.3 L415.1 45.9 L424.3 44.2 L433.5 43.2 L442.7 43.0 L451.9 43.5 L461.0 44.7 L469.9 46.7 L478.7 49.4 L487.3 52.8 L495.6 57.0 L503.6 61.8 L511.3 67.2 L518.5 73.3 L525.4 80.0 L531.9 87.2 L537.8 95.0 L543.3 103.3 L548.2 112.0 L552.6 121.1 L556.4 130.7 L559.6 140.5 L562.2 150.6 L564.2 161.0 L565.5 171.5 L566.2 182.2 L566.2 193.0 L565.6 203.8" fill="none" stroke="#4c2403" stroke-width="30.82" stroke-linecap="butt" stroke-linejoin="round"/>
<path d="M301.4 222.1 L300.8 211.2 L300.8 200.3 L301.5 189.4 L302.8 178.6 L304.8 167.9 L307.4 157.3 L310.6 146.9 L314.5 136.9 L318.9 127.1 L323.8 117.6 L329.3 108.6 L335.3 100.0 L341.8 91.9 L348.7 84.3 L356.0 77.2 L363.7 70.7 L371.7 64.9 L380.1 59.7 L388.7 55.2 L397.5 51.3 L406.4 48.2 L415.6 45.8 L424.8 44.1 L434.0 43.2 L443.2 43.0 L452.4 43.5 L461.5 44.8 L470.5 46.9 L479.3 49.6 L487.9 53.1 L496.2 57.3 L504.2 62.1 L511.8 67.6 L519.1 73.8 L526.0 80.5 L532.4 87.8 L538.3 95.7 L543.7 104.0 L548.6 112.8 L553.0 122.0 L556.7 131.6 L559.9 141.5 L562.4 151.6 L564.3 162.1 L565.6 172.6 L566.2 183.4 L566.2 194.2 L565.5 205.0" fill="none" stroke="#623105" stroke-width="29.58" stroke-linecap="butt" stroke-linejoin="round"/>
<path d="M301.4 222.1 L300.7 211.2 L300.8 200.3 L301.5 189.4 L302.9 178.5 L304.8 167.7 L307.5 157.2 L310.7 146.8 L314.5 136.7 L319.0 126.9 L323.9 117.4 L329.4 108.4 L335.5 99.8 L342.0 91.6 L348.9 84.0 L356.3 77.0 L364.0 70.5 L372.0 64.7 L380.4 59.5 L389.0 55.0 L397.9 51.2 L406.9 48.0 L416.0 45.7 L425.2 44.0 L434.5 43.1 L443.8 43.0 L453.0 43.6 L462.1 44.9 L471.1 47.0 L479.9 49.8 L488.4 53.4 L496.7 57.6 L504.7 62.5 L512.4 68.1 L519.7 74.3 L526.5 81.1 L532.9 88.5 L538.8 96.4 L544.2 104.7 L549.1 113.6 L553.3 122.9 L557.0 132.5 L560.2 142.4 L562.6 152.7 L564.5 163.1 L565.7 173.7 L566.3 184.5 L566.2 195.3 L565.4 206.2" fill="none" stroke="#723b07" stroke-width="28.04" stroke-linecap="butt" stroke-linejoin="round"/>
<path d="M301.4 222.1 L300.7 211.2 L300.8 200.2 L301.5 189.3 L302.9 178.4 L304.9 167.6 L307.5 157.0 L310.8 146.6 L314.6 136.5 L319.1 126.7 L324.1 117.2 L329.6 108.1 L335.6 99.5 L342.2 91.4 L349.1 83.8 L356.5 76.7 L364.3 70.3 L372.4 64.5 L380.8 59.3 L389.4 54.8 L398.3 51.0 L407.3 47.9 L416.5 45.6 L425.7 44.0 L435.0 43.1 L444.3 43.0 L453.5 43.6 L462.7 45.0 L471.6 47.2 L480.4 50.0 L489.0 53.6 L497.3 57.9 L505.3 62.9 L512.9 68.5 L520.2 74.8 L527.0 81.7 L533.4 89.1 L539.3 97.0 L544.6 105.5 L549.5 114.4 L553.7 123.7 L557.4 133.4 L560.4 143.4 L562.8 153.7 L564.6 164.2 L565.8 174.8 L566.3 185.6 L566.1 196.5 L565.3 207.4" fill="none" stroke="#814408" stroke-width="26.19" stroke-linecap="butt" stroke-linejoin="round"/>
<path d="M301.4 222.1 L300.7 211.1 L300.8 200.2 L301.5 189.2 L302.9 178.3 L304.9 167.5 L307.5 156.9 L310.8 146.5 L314.7 136.3 L319.2 126.5 L324.2 117.0 L329.7 107.9 L335.8 99.3 L342.4 91.2 L349.4 83.6 L356.8 76.5 L364.6 70.1 L372.7 64.3 L381.1 59.1 L389.8 54.6 L398.7 50.8 L407.8 47.8 L416.9 45.5 L426.2 43.9 L435.5 43.1 L444.8 43.0 L454.1 43.7 L463.2 45.1 L472.2 47.3 L481.0 50.3 L489.6 53.9 L497.9 58.3 L505.9 63.3 L513.5 69.0 L520.7 75.3 L527.6 82.2 L533.9 89.7 L539.7 97.7 L545.1 106.2 L549.9 115.2 L554.1 124.6 L557.7 134.3 L560.7 144.4 L563.0 154.7 L564.8 165.2 L565.9 175.9 L566.3 186.8 L566.1 197.7 L565.2 208.6" fill="none" stroke="#8e4b09" stroke-width="24.04" stroke-linecap="butt" stroke-linejoin="round"/>
<path d="M301.4 222.1 L300.7 211.1 L300.8 200.1 L301.5 189.1 L302.9 178.2 L304.9 167.4 L307.6 156.7 L310.9 146.3 L314.8 136.1 L319.2 126.3 L324.3 116.8 L329.9 107.7 L336.0 99.1 L342.6 90.9 L349.6 83.3 L357.0 76.3 L364.8 69.8 L373.0 64.0 L381.5 58.9 L390.2 54.4 L399.1 50.7 L408.2 47.7 L417.4 45.4 L426.7 43.8 L436.0 43.0 L445.4 43.0 L454.6 43.8 L463.8 45.3 L472.8 47.5 L481.6 50.5 L490.2 54.2 L498.5 58.6 L506.4 63.7 L514.1 69.4 L521.3 75.8 L528.1 82.8 L534.4 90.4 L540.2 98.4 L545.5 107.0 L550.3 116.0 L554.4 125.5 L558.0 135.2 L560.9 145.4 L563.2 155.7 L564.9 166.3 L565.9 177.0 L566.3 187.9 L566.0 198.8 L565.0 209.7" fill="none" stroke="#9a520b" stroke-width="21.57" stroke-linecap="butt" stroke-linejoin="round"/>
<path d="M301.4 222.1 L300.7 211.1 L300.8 200.1 L301.5 189.1 L302.9 178.1 L305.0 167.3 L307.6 156.6 L310.9 146.1 L314.8 135.9 L319.3 126.1 L324.4 116.6 L330.0 107.5 L336.2 98.8 L342.8 90.7 L349.8 83.1 L357.3 76.1 L365.1 69.6 L373.3 63.8 L381.8 58.7 L390.6 54.3 L399.5 50.5 L408.6 47.5 L417.9 45.3 L427.2 43.8 L436.5 43.0 L445.9 43.0 L455.2 43.8 L464.3 45.4 L473.3 47.7 L482.2 50.7 L490.7 54.5 L499.0 58.9 L507.0 64.1 L514.6 69.9 L521.8 76.3 L528.6 83.4 L534.9 91.0 L540.7 99.1 L545.9 107.8 L550.6 116.8 L554.8 126.3 L558.3 136.2 L561.2 146.3 L563.4 156.7 L565.1 167.4 L566.0 178.2 L566.3 189.0 L565.9 200.0 L564.9 210.9" fill="none" stroke="#a4580c" stroke-width="18.80" stroke-linecap="butt" stroke-linejoin="round"/>
<path d="M301.4 222.1 L300.7 211.1 L300.8 200.0 L301.5 189.0 L302.9 178.0 L305.0 167.1 L307.7 156.4 L311.0 146.0 L314.9 135.8 L319.4 125.9 L324.5 116.4 L330.2 107.3 L336.3 98.6 L343.0 90.5 L350.0 82.9 L357.5 75.8 L365.4 69.4 L373.6 63.6 L382.2 58.5 L390.9 54.1 L399.9 50.4 L409.1 47.4 L418.3 45.2 L427.7 43.7 L437.1 43.0 L446.4 43.1 L455.7 43.9 L464.9 45.5 L473.9 47.8 L482.7 50.9 L491.3 54.7 L499.6 59.3 L507.6 64.5 L515.2 70.3 L522.4 76.9 L529.1 84.0 L535.4 91.6 L541.1 99.8 L546.4 108.5 L551.0 117.7 L555.1 127.2 L558.6 137.1 L561.4 147.3 L563.6 157.8 L565.2 168.4 L566.1 179.3 L566.3 190.2 L565.8 201.1 L564.7 212.1" fill="none" stroke="#ae5e0d" stroke-width="15.41" stroke-linecap="butt" stroke-linejoin="round"/>
<path d="M301.4 222.1 L300.7 211.0 L300.8 200.0 L301.5 188.9 L302.9 177.9 L305.0 167.0 L307.7 156.3 L311.0 145.8 L315.0 135.6 L319.5 125.7 L324.7 116.1 L330.3 107.0 L336.5 98.4 L343.2 90.2 L350.3 82.6 L357.8 75.6 L365.7 69.2 L374.0 63.4 L382.5 58.3 L391.3 53.9 L400.3 50.2 L409.5 47.3 L418.8 45.1 L428.2 43.7 L437.6 43.0 L446.9 43.1 L456.2 44.0 L465.4 45.6 L474.5 48.0 L483.3 51.1 L491.9 55.0 L500.2 59.6 L508.1 64.9 L515.7 70.8 L522.9 77.4 L529.6 84.6 L535.9 92.3 L541.6 100.6 L546.8 109.3 L551.4 118.5 L555.4 128.1 L558.9 138.0 L561.7 148.3 L563.8 158.8 L565.3 169.5 L566.1 180.4 L566.3 191.3 L565.8 202.3 L564.6 213.3" fill="none" stroke="#b6630d" stroke-width="11.40" stroke-linecap="butt" stroke-linejoin="round"/>
<path d="M301.4 222.1 L300.7 211.0 L300.8 199.9 L301.6 188.8 L303.0 177.8 L305.0 166.9 L307.8 156.2 L311.1 145.6 L315.1 135.4 L319.6 125.5 L324.8 115.9 L330.5 106.8 L336.7 98.2 L343.4 90.0 L350.5 82.4 L358.1 75.4 L366.0 69.0 L374.3 63.2 L382.9 58.1 L391.7 53.7 L400.7 50.1 L409.9 47.2 L419.3 45.0 L428.7 43.6 L438.1 43.0 L447.5 43.1 L456.8 44.0 L466.0 45.7 L475.0 48.2 L483.9 51.4 L492.5 55.3 L500.8 60.0 L508.7 65.3 L516.3 71.3 L523.4 77.9 L530.1 85.1 L536.4 92.9 L542.1 101.3 L547.2 110.1 L551.8 119.3 L555.8 129.0 L559.2 139.0 L561.9 149.3 L564.0 159.8 L565.4 170.6 L566.2 181.5 L566.3 192.5 L565.7 203.5 L564.4 214.5" fill="none" stroke="#bb660e" stroke-width="6.16" stroke-linecap="butt" stroke-linejoin="round"/>
<path d="M585.8 195.5 L585.3 206.0 L584.1 216.6 L582.4 227.0 L580.1 237.4 L577.1 247.7 L573.6 257.7 L569.5 267.5 L564.8 277.0 L559.6 286.1 L553.9 294.9 L547.8 303.3 L541.1 311.2 L534.1 318.7 L526.6 325.6 L518.8 332.0 L510.6 337.8 L502.2 343.0 L493.5 347.6 L484.5 351.5 L475.4 354.8 L466.2 357.3 L456.8 359.2 L447.4 360.4 L438.0 360.9 L428.6 360.6 L419.2 359.7 L410.0 358.0 L400.9 355.7 L392.0 352.6 L383.3 348.9 L374.9 344.5 L366.8 339.5 L359.0 333.9 L351.6 327.7 L344.5 320.9 L338.0 313.6 L331.8 305.8 L326.2 297.6 L321.1 288.9 L316.5 279.8 L312.5 270.3 L309.0 260.6 L306.2 250.6 L303.9 240.4 L302.2 230.0 L301.1 219.4 L300.7 208.8 L300.9 198.2" fill="none" stroke="#4c2403" stroke-width="30.82" stroke-linecap="butt" stroke-linejoin="round"/>
<path d="M585.8 195.5 L585.3 206.0 L584.1 216.6 L582.4 227.1 L580.0 237.5 L577.1 247.8 L573.5 257.8 L569.4 267.6 L564.7 277.1 L559.5 286.3 L553.8 295.1 L547.6 303.5 L540.9 311.5 L533.8 318.9 L526.4 325.8 L518.5 332.2 L510.3 338.0 L501.8 343.2 L493.1 347.8 L484.1 351.7 L475.0 354.9 L465.7 357.4 L456.3 359.3 L446.9 360.4 L437.4 360.9 L428.0 360.6 L418.6 359.6 L409.4 357.9 L400.3 355.5 L391.4 352.4 L382.7 348.6 L374.3 344.2 L366.2 339.1 L358.4 333.5 L351.0 327.2 L344.0 320.4 L337.4 313.0 L331.3 305.1 L325.7 296.8 L320.7 288.0 L316.1 278.9 L312.1 269.4 L308.7 259.6 L305.9 249.6 L303.7 239.3 L302.1 228.9 L301.1 218.3 L300.7 207.7 L300.9 197.0" fill="none" stroke="#623105" stroke-width="29.58" stroke-linecap="butt" stroke-linejoin="round"/>
<path d="M585.8 195.5 L585.3 206.1 L584.1 216.7 L582.4 227.2 L580.0 237.6 L577.0 247.9 L573.5 258.0 L569.3 267.8 L564.6 277.3 L559.4 286.5 L553.7 295.3 L547.4 303.7 L540.7 311.7 L533.6 319.1 L526.1 326.1 L518.2 332.4 L510.0 338.2 L501.5 343.4 L492.7 347.9 L483.7 351.8 L474.5 355.0 L465.2 357.5 L455.8 359.4 L446.4 360.5 L436.9 360.9 L427.4 360.5 L418.1 359.5 L408.8 357.8 L399.7 355.3 L390.8 352.2 L382.1 348.3 L373.7 343.9 L365.6 338.7 L357.8 333.0 L350.4 326.7 L343.4 319.8 L336.9 312.3 L330.8 304.4 L325.3 296.0 L320.2 287.2 L315.7 278.0 L311.8 268.5 L308.4 258.6 L305.6 248.5 L303.5 238.2 L301.9 227.7 L301.0 217.2 L300.7 206.5 L301.0 195.8" fill="none" stroke="#723b07" stroke-width="28.04" stroke-linecap="butt" stroke-linejoin="round"/>
<path d="M585.8 195.5 L585.3 206.1 L584.1 216.7 L582.4 227.3 L580.0 237.7 L577.0 248.0 L573.4 258.1 L569.3 267.9 L564.5 277.5 L559.3 286.7 L553.5 295.5 L547.3 303.9 L540.5 311.9 L533.4 319.4 L525.9 326.3 L517.9 332.7 L509.7 338.4 L501.1 343.6 L492.3 348.1 L483.3 352.0 L474.1 355.2 L464.8 357.7 L455.3 359.4 L445.9 360.5 L436.4 360.9 L426.9 360.5 L417.5 359.4 L408.2 357.6 L399.1 355.1 L390.2 351.9 L381.5 348.0 L373.1 343.5 L365.0 338.3 L357.2 332.5 L349.8 326.1 L342.9 319.2 L336.4 311.7 L330.3 303.7 L324.8 295.3 L319.8 286.4 L315.3 277.1 L311.4 267.5 L308.1 257.6 L305.4 247.5 L303.3 237.1 L301.8 226.6 L300.9 216.0 L300.7 205.3 L301.1 194.6" fill="none" stroke="#814408" stroke-width="26.19" stroke-linecap="butt" stroke-linejoin="round"/>
<path d="M585.8 195.5 L585.3 206.1 L584.1 216.8 L582.3 227.3 L580.0 237.8 L576.9 248.1 L573.4 258.2 L569.2 268.1 L564.4 277.7 L559.2 286.9 L553.4 295.7 L547.1 304.2 L540.4 312.1 L533.2 319.6 L525.6 326.5 L517.6 332.9 L509.4 338.6 L500.8 343.8 L492.0 348.3 L482.9 352.1 L473.7 355.3 L464.3 357.8 L454.9 359.5 L445.4 360.5 L435.8 360.9 L426.3 360.5 L416.9 359.3 L407.6 357.5 L398.5 354.9 L389.6 351.7 L380.9 347.8 L372.5 343.2 L364.4 337.9 L356.6 332.1 L349.3 325.6 L342.3 318.6 L335.8 311.0 L329.8 303.0 L324.3 294.5 L319.4 285.6 L314.9 276.3 L311.1 266.6 L307.8 256.7 L305.2 246.5 L303.1 236.1 L301.7 225.5 L300.9 214.9 L300.7 204.1 L301.2 193.4" fill="none" stroke="#8e4b09" stroke-width="24.04" stroke-linecap="butt" stroke-linejoin="round"/>
<path d="M585.8 195.5 L585.3 206.1 L584.1 216.8 L582.3 227.4 L579.9 237.9 L576.9 248.2 L573.3 258.4 L569.1 268.3 L564.4 277.8 L559.1 287.1 L553.2 295.9 L546.9 304.4 L540.2 312.3 L533.0 319.8 L525.3 326.7 L517.4 333.1 L509.1 338.8 L500.4 344.0 L491.6 348.5 L482.5 352.3 L473.3 355.4 L463.9 357.9 L454.4 359.6 L444.8 360.6 L435.3 360.9 L425.8 360.4 L416.4 359.2 L407.1 357.3 L397.9 354.7 L389.0 351.4 L380.3 347.5 L371.9 342.8 L363.8 337.5 L356.0 331.6 L348.7 325.1 L341.8 318.0 L335.3 310.4 L329.3 302.3 L323.9 293.7 L318.9 284.7 L314.6 275.4 L310.7 265.7 L307.5 255.7 L304.9 245.4 L302.9 235.0 L301.6 224.4 L300.8 213.7 L300.7 203.0 L301.3 192.2" fill="none" stroke="#9a520b" stroke-width="21.57" stroke-linecap="butt" stroke-linejoin="round"/>
<path d="M585.8 195.5 L585.3 206.2 L584.1 216.9 L582.3 227.5 L579.9 238.0 L576.9 248.4 L573.2 258.5 L569.0 268.4 L564.3 278.0 L558.9 287.3 L553.1 296.1 L546.8 304.6 L540.0 312.5 L532.7 320.0 L525.1 326.9 L517.1 333.3 L508.7 339.0 L500.1 344.2 L491.2 348.6 L482.1 352.4 L472.8 355.6 L463.4 358.0 L453.9 359.7 L444.3 360.6 L434.8 360.9 L425.2 360.4 L415.8 359.1 L406.5 357.2 L397.3 354.5 L388.4 351.2 L379.7 347.1 L371.3 342.4 L363.2 337.1 L355.5 331.1 L348.1 324.5 L341.2 317.4 L334.8 309.7 L328.8 301.6 L323.4 292.9 L318.5 283.9 L314.2 274.5 L310.4 264.7 L307.3 254.7 L304.7 244.4 L302.8 233.9 L301.5 223.3 L300.8 212.6 L300.8 201.8 L301.4 191.0" fill="none" stroke="#a4580c" stroke-width="18.80" stroke-linecap="butt" stroke-linejoin="round"/>
<path d="M585.8 195.5 L585.3 206.2 L584.1 216.9 L582.3 227.6 L579.9 238.1 L576.8 248.5 L573.2 258.7 L569.0 268.6 L564.2 278.2 L558.8 287.5 L553.0 296.3 L546.6 304.8 L539.8 312.8 L532.5 320.2 L524.8 327.1 L516.8 333.5 L508.4 339.2 L499.8 344.4 L490.8 348.8 L481.7 352.6 L472.4 355.7 L462.9 358.1 L453.4 359.7 L443.8 360.6 L434.2 360.8 L424.7 360.3 L415.2 359.0 L405.9 357.1 L396.7 354.4 L387.8 350.9 L379.1 346.8 L370.7 342.1 L362.6 336.7 L354.9 330.6 L347.6 324.0 L340.7 316.8 L334.3 309.1 L328.4 300.8 L323.0 292.2 L318.1 283.1 L313.8 273.6 L310.1 263.8 L307.0 253.7 L304.5 243.4 L302.6 232.8 L301.4 222.2 L300.8 211.4 L300.8 200.6 L301.5 189.8" fill="none" stroke="#ae5e0d" stroke-width="15.41" stroke-linecap="butt" stroke-linejoin="round"/>
<path d="M585.8 195.5 L585.3 206.2 L584.1 217.0 L582.3 227.6 L579.8 238.2 L576.8 248.6 L573.1 258.8 L568.9 268.7 L564.1 278.4 L558.7 287.6 L552.8 296.5 L546.4 305.0 L539.6 313.0 L532.3 320.4 L524.6 327.4 L516.5 333.7 L508.1 339.4 L499.4 344.5 L490.5 349.0 L481.3 352.7 L471.9 355.8 L462.5 358.2 L452.9 359.8 L443.3 360.7 L433.7 360.8 L424.1 360.3 L414.7 358.9 L405.3 356.9 L396.2 354.2 L387.2 350.7 L378.5 346.5 L370.1 341.7 L362.0 336.2 L354.3 330.1 L347.0 323.4 L340.2 316.2 L333.8 308.4 L327.9 300.1 L322.5 291.4 L317.7 282.2 L313.4 272.7 L309.8 262.8 L306.7 252.7 L304.3 242.3 L302.4 231.8 L301.3 221.1 L300.7 210.3 L300.8 199.5 L301.6 188.6" fill="none" stroke="#b6630d" stroke-width="11.40" stroke-linecap="butt" stroke-linejoin="round"/>
<path d="M585.8 195.5 L585.3 206.2 L584.1 217.0 L582.3 227.7 L579.8 238.3 L576.8 248.7 L573.1 258.9 L568.8 268.9 L564.0 278.5 L558.6 287.8 L552.7 296.7 L546.3 305.2 L539.4 313.2 L532.1 320.7 L524.3 327.6 L516.2 333.9 L507.8 339.6 L499.1 344.7 L490.1 349.2 L480.9 352.9 L471.5 355.9 L462.0 358.3 L452.4 359.8 L442.8 360.7 L433.2 360.8 L423.6 360.2 L414.1 358.8 L404.8 356.8 L395.6 353.9 L386.6 350.4 L377.9 346.2 L369.5 341.3 L361.4 335.8 L353.8 329.6 L346.5 322.9 L339.6 315.6 L333.3 307.7 L327.4 299.4 L322.1 290.6 L317.3 281.4 L313.1 271.8 L309.5 261.9 L306.4 251.7 L304.1 241.3 L302.3 230.7 L301.2 220.0 L300.7 209.1 L300.9 198.3 L301.7 187.4" fill="none" stroke="#bb660e" stroke-width="6.16" stroke-linecap="butt" stroke-linejoin="round"/>
<path d="M585.8 198.6 L585.8 15.0" fill="none" stroke="#4c2403" stroke-width="30.82" stroke-linecap="butt" stroke-linejoin="round"/>
<path d="M585.8 199.8 L585.8 15.0" fill="none" stroke="#623105" stroke-width="29.58" stroke-linecap="butt" stroke-linejoin="round"/>
<path d="M585.8 201.0 L585.8 15.0" fill="none" stroke="#723b07" stroke-width="28.04" stroke-linecap="butt" stroke-linejoin="round"/>
<path d="M585.8 202.2 L585.8 15.0" fill="none" stroke="#814408" stroke-width="26.19" stroke-linecap="butt" stroke-linejoin="round"/>
<path d="M585.8 203.4 L585.8 15.0" fill="none" stroke="#8e4b09" stroke-width="24.04" stroke-linecap="butt" stroke-linejoin="round"/>
<path d="M585.8 204.6 L585.8 15.0" fill="none" stroke="#9a520b" stroke-width="21.57" stroke-linecap="butt" stroke-linejoin="round"/>
<path d="M585.8 205.8 L585.8 15.0" fill="none" stroke="#a4580c" stroke-width="18.80" stroke-linecap="butt" stroke-linejoin="round"/>
<path d="M585.8 207.0 L585.8 15.0" fill="none" stroke="#ae5e0d" stroke-width="15.41" stroke-linecap="butt" stroke-linejoin="round"/>
<path d="M585.8 208.2 L585.8 15.0" fill="none" stroke="#b6630d" stroke-width="11.40" stroke-linecap="butt" stroke-linejoin="round"/>
<path d="M585.8 209.4 L585.8 15.0" fill="none" stroke="#bb660e" stroke-width="6.16" stroke-linecap="butt" stroke-linejoin="round"/>
<line x1="570.4" y1="195.5" x2="601.2" y2="195.5" stroke="#8c1c0c" stroke-width="0.8"/>
<line x1="550.9" y1="191.9" x2="570.4" y2="191.9" stroke="#8c1c0c" stroke-width="0.8"/>
<line x1="531.3" y1="188.4" x2="550.9" y2="188.4" stroke="#8c1c0c" stroke-width="0.8"/>
<line x1="246.2" y1="203.1" x2="265.8" y2="203.1" stroke="#8c1c0c" stroke-width="0.8"/>
<rect x="218.5" y="4.2" width="428" height="397.6" stroke="#000" stroke-width="2.3" stroke-dasharray="4.5 3" fill="none"/>
<path d="M294.0 85.7 L296.8 81.9 L299.8 78.0 L302.9 74.1 L306.2 70.3 L309.5 66.7 L312.9 63.1 L316.4 59.7 L320.0 56.3 L323.7 53.1 L327.4 50.0 L331.2 47.0 L335.1 44.1 L339.1 41.3 L343.2 38.7 L347.3 36.2 L351.5 33.8 L355.7 31.6 L360.0 29.5 L364.3 27.5 L368.7 25.7 L373.1 24.0 L377.6 22.5 L382.1 21.1 L386.7 19.9 L391.3 18.8 L395.9 17.9 L400.5 17.1 L405.1 16.4 L409.8 16.0" fill="none" stroke="#000" stroke-width="3.4" stroke-linecap="round"/>
<polygon points="414.0,15.7 400.4,21.6 403.8,16.4 399.7,11.6" fill="#000"/>
<path d="M607.9 223.1 L607.1 227.8 L606.2 232.6 L605.1 237.5 L604.0 242.3 L602.7 247.1 L601.3 251.9 L599.8 256.7 L598.2 261.4 L596.5 266.0 L594.7 270.6 L592.7 275.2 L590.7 279.7 L588.5 284.2 L586.3 288.6 L583.9 293.0 L581.4 297.2 L578.9 301.4 L576.2 305.6 L573.4 309.7 L570.6 313.6 L567.6 317.6 L564.6 321.4 L561.4 325.1 L558.2 328.8 L554.9 332.4 L551.5 335.8 L548.0 339.2 L544.4 342.5 L540.7 345.7" fill="none" stroke="#000" stroke-width="3.4" stroke-linecap="round"/>
<polygon points="537.3,348.5 544.9,335.8 545.2,342.0 551.3,343.5" fill="#000"/>
<path d="M505.7 139.0 L506.8 140.8 L507.8 142.7 L508.8 144.5 L509.8 146.4 L510.7 148.3 L511.6 150.3 L512.4 152.2 L513.3 154.2 L514.0 156.1 L514.7 158.1 L515.4 160.1 L516.1 162.1 L516.7 164.2 L517.2 166.2 L517.8 168.3 L518.3 170.3 L518.7 172.4 L519.1 174.5 L519.4 176.6 L519.8 178.7 L520.0 180.8 L520.2 182.9 L520.4 185.0 L520.6 187.1 L520.7 189.2 L520.7 191.3 L520.7 193.5 L520.7 195.6" fill="none" stroke="#000" stroke-width="3.7" stroke-linecap="round"/>
<polygon points="520.5,199.8 516.9,185.1 521.1,189.2 525.7,185.6" fill="#000"/>
<path d="M377.7 283.2 L376.0 282.0 L374.4 280.8 L372.8 279.6 L371.2 278.3 L369.7 276.9 L368.2 275.5 L366.7 274.1 L365.3 272.6 L363.9 271.1 L362.5 269.6 L361.2 268.0 L360.0 266.4 L358.8 264.8 L357.6 263.1 L356.5 261.4 L355.4 259.7 L354.4 257.9 L353.4 256.1 L352.5 254.3 L351.6 252.5 L350.7 250.6 L350.0 248.7 L349.2 246.8 L348.6 244.9 L347.9 242.9 L347.4 241.0 L346.8 239.0 L346.4 237.0" fill="none" stroke="#000" stroke-width="3.7" stroke-linecap="round"/>
<polygon points="345.6,233.0 352.5,246.5 347.5,243.4 343.8,248.0" fill="#000"/>
<path d="M418.8 123.5 L418.8 150.0 L418.8 172.2" fill="none" stroke="#000" stroke-width="3.3" stroke-linecap="round"/>
<polygon points="418.8,172.2 414.6,158.2 418.8,162.0 422.9,158.2" fill="#000"/>
<path d="M444.4 170.8 L444.4 150.0 L444.4 122.0" fill="none" stroke="#000" stroke-width="3.3" stroke-linecap="round"/>
<polygon points="444.4,122.0 448.6,135.5 444.4,131.9 440.2,135.5" fill="#000"/>
<path d="M415.1 191.6 L414.1 193.8 L413.4 196.0 L412.9 198.4 L412.8 200.8 L413.0 203.2 L413.5 205.6 L414.3 207.8 L415.3 210.0 L416.7 212.0 L418.3 213.8" fill="none" stroke="#000" stroke-width="3.8" stroke-linecap="round"/>
<polygon points="422.1,216.7 409.2,215.3 415.1,212.0 415.9,205.3" fill="#000"/>
<path d="M444.8 213.5 L446.0 212.2 L447.0 210.7 L447.9 209.1 L448.7 207.4 L449.3 205.7 L449.7 204.0 L449.9 202.2 L450.0 200.3 L449.9 198.5 L449.6 196.7 L449.4 192.5" fill="none" stroke="#000" stroke-width="3.8" stroke-linecap="round"/>
<polygon points="448.7,186.7 456.0,197.4 449.7,195.0 444.1,198.8" fill="#000"/>
<line x1="184.0" y1="130.5" x2="262.0" y2="137.0" stroke="#e0101e" stroke-width="1.8"/>
<circle cx="262.0" cy="137.0" r="4.3" fill="#f40408"/>
<line x1="188.0" y1="196.8" x2="344.0" y2="197.0" stroke="#e0101e" stroke-width="1.8"/>
<circle cx="344.0" cy="197.0" r="4.3" fill="#f40408"/>
<line x1="188.0" y1="265.0" x2="425.7" y2="201.2" stroke="#e0101e" stroke-width="1.8"/>
<circle cx="425.7" cy="201.2" r="4.5" fill="#f40408"/>
<text x="174.5" y="137.6" font-size="30.4" text-anchor="end" fill="#000" >excitation coil</text>
<text x="174.5" y="205.4" font-size="30.4" text-anchor="end" fill="#000" >Lenz lens</text>
<text x="174.5" y="273.6" font-size="30.4" text-anchor="end" fill="#000" >sample</text>
<text x="452.6" y="165.7" font-size="35.3" text-anchor="start" fill="#000" >I'</text>
<text x="589.1" y="315.9" font-size="35.6" text-anchor="start" fill="#000" >I</text>
<rect x="551.5" y="354.3" width="45.2" height="2.6" fill="#cf1a22"/>
<text x="572.9" y="387.8" font-size="30.4" text-anchor="middle" fill="#cf1a22" textLength="96">200 μm</text>
<path d="M222.4 455.8 A59.3 80.5 0 0 0 222.4 616.8 L246.4 619.7 A58.6 82.6 0 0 1 246.4 454.5 Z" fill="url(#gGirdleL)" stroke="#0c1418" stroke-width="1"/>
<clipPath id="cpCone"><ellipse cx="246.4" cy="537.1" rx="58.6" ry="82.6"/></clipPath>
<g clip-path="url(#cpCone)">
<rect x="150" y="440" width="170" height="200" fill="#080c0e"/>
<polygon points="301.4,538.6 390.3,294.3 366.5,286.9" fill="#030505"/>
<polygon points="301.4,538.6 383.9,292.0 359.9,285.3" fill="#030505"/>
<polygon points="301.4,538.6 377.4,290.0 353.2,283.8" fill="#030505"/>
<polygon points="301.4,538.6 370.9,288.1 346.5,282.5" fill="#030505"/>
<polygon points="301.4,538.6 364.3,286.3 339.8,281.5" fill="#030505"/>
<polygon points="301.4,538.6 357.7,284.8 333.1,280.5" fill="#030505"/>
<polygon points="301.4,538.6 351.0,283.4 326.3,279.8" fill="#030505"/>
<polygon points="301.4,538.6 344.3,282.2 319.5,279.2" fill="#030505"/>
<polygon points="301.4,538.6 337.6,281.1 312.7,278.8" fill="#030505"/>
<polygon points="301.4,538.6 330.8,280.3 305.9,278.6" fill="#030505"/>
<polygon points="301.4,538.6 324.1,279.6 299.1,278.6" fill="#030505"/>
<polygon points="301.4,538.6 317.3,279.1 292.3,278.8" fill="#030505"/>
<polygon points="301.4,538.6 310.5,278.8 285.5,279.1" fill="#030505"/>
<polygon points="301.4,538.6 303.7,278.6 278.7,279.6" fill="#030505"/>
<polygon points="301.4,538.6 296.9,278.6 272.0,280.3" fill="#040606"/>
<polygon points="301.4,538.6 290.1,278.8 265.2,281.1" fill="#040707"/>
<polygon points="301.4,538.6 283.3,279.2 258.5,282.2" fill="#050708"/>
<polygon points="301.4,538.6 276.5,279.8 251.8,283.4" fill="#060809"/>
<polygon points="301.4,538.6 269.7,280.5 245.1,284.8" fill="#06090a"/>
<polygon points="301.4,538.6 263.0,281.5 238.5,286.3" fill="#070a0b"/>
<polygon points="301.4,538.6 256.3,282.5 231.9,288.1" fill="#080b0c"/>
<polygon points="301.4,538.6 249.6,283.8 225.4,290.0" fill="#0a0e10"/>
<polygon points="301.4,538.6 242.9,285.3 218.9,292.0" fill="#0c1012"/>
<polygon points="301.4,538.6 236.3,286.9 212.5,294.3" fill="#0e1316"/>
<polygon points="301.4,538.6 229.7,288.7 206.1,296.7" fill="#101618"/>
<polygon points="301.4,538.6 223.2,290.6 199.8,299.3" fill="#131a1d"/>
<polygon points="301.4,538.6 216.8,292.8 193.6,302.0" fill="#161e22"/>
<polygon points="301.4,538.6 210.3,295.1 187.4,304.9" fill="#192326"/>
<polygon points="301.4,538.6 204.0,297.5 181.3,308.0" fill="#1c272b"/>
<polygon points="301.4,538.6 197.7,300.2 175.3,311.2" fill="#212d31"/>
<polygon points="301.4,538.6 191.5,303.0 169.4,314.6" fill="#253338"/>
<polygon points="301.4,538.6 185.4,305.9 163.6,318.1" fill="#29393e"/>
<polygon points="301.4,538.6 179.3,309.0 157.9,321.8" fill="#2d3f45"/>
<polygon points="301.4,538.6 173.4,312.3 152.3,325.6" fill="#32454b"/>
<polygon points="301.4,538.6 167.5,315.7 146.7,329.6" fill="#364b52"/>
<polygon points="301.4,538.6 161.7,319.3 141.3,333.7" fill="#3b5258"/>
<polygon points="301.4,538.6 156.0,323.1 136.0,338.0" fill="#3f585f"/>
<polygon points="301.4,538.6 150.4,326.9 130.8,342.4" fill="#445e66"/>
<polygon points="301.4,538.6 144.9,331.0 125.7,346.9" fill="#49646c"/>
<polygon points="301.4,538.6 139.5,335.1 120.8,351.6" fill="#4d6b73"/>
<polygon points="301.4,538.6 134.3,339.4 116.0,356.4" fill="#52717a"/>
<polygon points="301.4,538.6 129.1,343.9 111.2,361.3" fill="#577780"/>
<polygon points="301.4,538.6 124.1,348.4 106.7,366.3" fill="#5b7d86"/>
<polygon points="301.4,538.6 119.2,353.2 102.2,371.5" fill="#60828c"/>
<polygon points="301.4,538.6 114.4,358.0 97.9,376.7" fill="#648892"/>
<polygon points="301.4,538.6 109.7,362.9 93.8,382.1" fill="#698e98"/>
<polygon points="301.4,538.6 105.2,368.0 89.7,387.6" fill="#6e949e"/>
<polygon points="301.4,538.6 100.8,373.2 85.9,393.2" fill="#729aa5"/>
<polygon points="301.4,538.6 96.5,378.5 82.1,398.9" fill="#77a0ab"/>
<polygon points="301.4,538.6 92.4,383.9 78.5,404.7" fill="#7ba5b0"/>
<polygon points="301.4,538.6 88.4,389.5 75.1,410.6" fill="#7ea9b4"/>
<polygon points="301.4,538.6 84.6,395.1 71.8,416.5" fill="#82adb9"/>
<polygon points="301.4,538.6 80.9,400.8 68.7,422.6" fill="#85b1bd"/>
<polygon points="301.4,538.6 77.4,406.6 65.8,428.7" fill="#88b5c1"/>
<polygon points="301.4,538.6 74.0,412.5 63.0,434.9" fill="#8cb9c5"/>
<polygon points="301.4,538.6 70.8,418.5 60.3,441.2" fill="#8ebdc9"/>
<polygon points="301.4,538.6 67.7,424.6 57.9,447.5" fill="#92c1cd"/>
<polygon points="301.4,538.6 64.8,430.8 55.6,454.0" fill="#94c5d1"/>
<polygon points="301.4,538.6 62.1,437.0 53.4,460.4" fill="#97c8d5"/>
<polygon points="301.4,538.6 59.5,443.3 51.5,466.9" fill="#9accd8"/>
<polygon points="301.4,538.6 57.1,449.7 49.7,473.5" fill="#9ccedb"/>
<polygon points="301.4,538.6 54.8,456.1 48.1,480.1" fill="#9fd2de"/>
<polygon points="301.4,538.6 52.8,462.6 46.6,486.8" fill="#a0d3e0"/>
<polygon points="301.4,538.6 50.9,469.1 45.3,493.5" fill="#a1d4e1"/>
<polygon points="301.4,538.6 49.1,475.7 44.3,500.2" fill="#a2d5e2"/>
<polygon points="301.4,538.6 47.6,482.3 43.3,506.9" fill="#a2d5e2"/>
<polygon points="301.4,538.6 46.2,489.0 42.6,513.7" fill="#a3d6e3"/>
<polygon points="301.4,538.6 45.0,495.7 42.0,520.5" fill="#a3d6e3"/>
<polygon points="301.4,538.6 43.9,502.4 41.6,527.3" fill="#a4d7e3"/>
<polygon points="301.4,538.6 43.1,509.2 41.4,534.1" fill="#a4d7e3"/>
<polygon points="301.4,538.6 42.4,515.9 41.4,538.6" fill="#a4d7e4"/>
<polygon points="301.4,538.6 41.9,522.7 41.4,538.6" fill="#a4d7e4"/>
<polygon points="301.4,538.6 41.6,529.5 41.4,538.6" fill="#a5d8e4"/>
<polygon points="301.4,538.6 41.4,536.3 41.4,538.6" fill="#a5d8e4"/>
<polygon points="301.4,538.6 390.3,782.9 366.5,790.3" fill="#030505"/>
<polygon points="301.4,538.6 383.9,785.2 359.9,791.9" fill="#030505"/>
<polygon points="301.4,538.6 377.4,787.2 353.2,793.4" fill="#030505"/>
<polygon points="301.4,538.6 370.9,789.1 346.5,794.7" fill="#030505"/>
<polygon points="301.4,538.6 364.3,790.9 339.8,795.7" fill="#030505"/>
<polygon points="301.4,538.6 357.7,792.4 333.1,796.7" fill="#030505"/>
<polygon points="301.4,538.6 351.0,793.8 326.3,797.4" fill="#030505"/>
<polygon points="301.4,538.6 344.3,795.0 319.5,798.0" fill="#030505"/>
<polygon points="301.4,538.6 337.6,796.1 312.7,798.4" fill="#030505"/>
<polygon points="301.4,538.6 330.8,796.9 305.9,798.6" fill="#030505"/>
<polygon points="301.4,538.6 324.1,797.6 299.1,798.6" fill="#030505"/>
<polygon points="301.4,538.6 317.3,798.1 292.3,798.4" fill="#030505"/>
<polygon points="301.4,538.6 310.5,798.4 285.5,798.1" fill="#030505"/>
<polygon points="301.4,538.6 303.7,798.6 278.7,797.6" fill="#030505"/>
<polygon points="301.4,538.6 296.9,798.6 272.0,796.9" fill="#040606"/>
<polygon points="301.4,538.6 290.1,798.4 265.2,796.1" fill="#040606"/>
<polygon points="301.4,538.6 283.3,798.0 258.5,795.0" fill="#040607"/>
<polygon points="301.4,538.6 276.5,797.4 251.8,793.8" fill="#050708"/>
<polygon points="301.4,538.6 269.7,796.7 245.1,792.4" fill="#050708"/>
<polygon points="301.4,538.6 263.0,795.7 238.5,790.9" fill="#060809"/>
<polygon points="301.4,538.6 256.3,794.7 231.9,789.1" fill="#07090a"/>
<polygon points="301.4,538.6 249.6,793.4 225.4,787.2" fill="#080b0c"/>
<polygon points="301.4,538.6 242.9,791.9 218.9,785.2" fill="#090d0e"/>
<polygon points="301.4,538.6 236.3,790.3 212.5,782.9" fill="#0a0f10"/>
<polygon points="301.4,538.6 229.7,788.5 206.1,780.5" fill="#0c1113"/>
<polygon points="301.4,538.6 223.2,786.6 199.8,777.9" fill="#0e1416"/>
<polygon points="301.4,538.6 216.8,784.4 193.6,775.2" fill="#101719"/>
<polygon points="301.4,538.6 210.3,782.1 187.4,772.3" fill="#121a1d"/>
<polygon points="301.4,538.6 204.0,779.7 181.3,769.2" fill="#151d20"/>
<polygon points="301.4,538.6 197.7,777.0 175.3,766.0" fill="#182326"/>
<polygon points="301.4,538.6 191.5,774.2 169.4,762.6" fill="#1c282c"/>
<polygon points="301.4,538.6 185.4,771.3 163.6,759.1" fill="#202e32"/>
<polygon points="301.4,538.6 179.3,768.2 157.9,755.4" fill="#243338"/>
<polygon points="301.4,538.6 173.4,764.9 152.3,751.6" fill="#29393e"/>
<polygon points="301.4,538.6 167.5,761.5 146.7,747.6" fill="#2d3f45"/>
<polygon points="301.4,538.6 161.7,757.9 141.3,743.5" fill="#32464b"/>
<polygon points="301.4,538.6 156.0,754.1 136.0,739.2" fill="#364c52"/>
<polygon points="301.4,538.6 150.4,750.3 130.8,734.8" fill="#3b5359"/>
<polygon points="301.4,538.6 144.9,746.2 125.7,730.3" fill="#415a61"/>
<polygon points="301.4,538.6 139.5,742.1 120.8,725.6" fill="#466168"/>
<polygon points="301.4,538.6 134.3,737.8 116.0,720.8" fill="#4b6870"/>
<polygon points="301.4,538.6 129.1,733.3 111.2,715.9" fill="#506e77"/>
<polygon points="301.4,538.6 124.1,728.8 106.7,710.9" fill="#55747d"/>
<polygon points="301.4,538.6 119.2,724.0 102.2,705.7" fill="#5a7b84"/>
<polygon points="301.4,538.6 114.4,719.2 97.9,700.5" fill="#5f818b"/>
<polygon points="301.4,538.6 109.7,714.3 93.8,695.1" fill="#648892"/>
<polygon points="301.4,538.6 105.2,709.2 89.7,689.6" fill="#6a8f99"/>
<polygon points="301.4,538.6 100.8,704.0 85.9,684.0" fill="#6f96a0"/>
<polygon points="301.4,538.6 96.5,698.7 82.1,678.3" fill="#749ca7"/>
<polygon points="301.4,538.6 92.4,693.3 78.5,672.5" fill="#79a2ad"/>
<polygon points="301.4,538.6 88.4,687.7 75.1,666.6" fill="#7ea8b4"/>
<polygon points="301.4,538.6 84.6,682.1 71.8,660.7" fill="#83aeba"/>
<polygon points="301.4,538.6 80.9,676.4 68.7,654.6" fill="#86b2be"/>
<polygon points="301.4,538.6 77.4,670.6 65.8,648.5" fill="#89b6c2"/>
<polygon points="301.4,538.6 74.0,664.7 63.0,642.3" fill="#8dbac6"/>
<polygon points="301.4,538.6 70.8,658.7 60.3,636.0" fill="#90beca"/>
<polygon points="301.4,538.6 67.7,652.6 57.9,629.7" fill="#93c3cf"/>
<polygon points="301.4,538.6 64.8,646.4 55.6,623.2" fill="#96c6d2"/>
<polygon points="301.4,538.6 62.1,640.2 53.4,616.8" fill="#98c9d6"/>
<polygon points="301.4,538.6 59.5,633.9 51.5,610.3" fill="#9bccd8"/>
<polygon points="301.4,538.6 57.1,627.5 49.7,603.7" fill="#9dcfdc"/>
<polygon points="301.4,538.6 54.8,621.1 48.1,597.1" fill="#9fd2de"/>
<polygon points="301.4,538.6 52.8,614.6 46.6,590.4" fill="#a0d3e0"/>
<polygon points="301.4,538.6 50.9,608.1 45.3,583.7" fill="#a1d4e1"/>
<polygon points="301.4,538.6 49.1,601.5 44.3,577.0" fill="#a2d5e2"/>
<polygon points="301.4,538.6 47.6,594.9 43.3,570.3" fill="#a2d5e2"/>
<polygon points="301.4,538.6 46.2,588.2 42.6,563.5" fill="#a3d6e3"/>
<polygon points="301.4,538.6 45.0,581.5 42.0,556.7" fill="#a3d6e3"/>
<polygon points="301.4,538.6 43.9,574.8 41.6,549.9" fill="#a4d7e3"/>
<polygon points="301.4,538.6 43.1,568.0 41.4,543.1" fill="#a4d7e3"/>
<polygon points="301.4,538.6 42.4,561.3 41.4,538.6" fill="#a4d7e4"/>
<polygon points="301.4,538.6 41.9,554.5 41.4,538.6" fill="#a4d7e4"/>
<polygon points="301.4,538.6 41.6,547.7 41.4,538.6" fill="#a5d8e4"/>
<polygon points="301.4,538.6 41.4,540.9 41.4,538.6" fill="#a5d8e4"/>
<polygon points="301.4,538.6 41.5,533.2 41.5,544.0" fill="#a5d8e4"/>
</g>
<ellipse cx="246.4" cy="537.1" rx="58.6" ry="82.6" fill="none" stroke="#0a1014" stroke-width="1"/>
<ellipse cx="301.4" cy="538.6" rx="4.2" ry="6.6" fill="#4c6a76" stroke="#2c4048" stroke-width="0.6"/>
<ellipse cx="350.6" cy="542.2" rx="43.8" ry="83.2" fill="url(#gGasket)" stroke="#0a0a0a" stroke-width="1"/>
<ellipse cx="378.8" cy="542.6" rx="15.9" ry="29.8" fill="none" stroke="#050505" stroke-width="0.8"/>
<ellipse cx="381.6" cy="542.6" rx="3.8" ry="5.9" fill="none" stroke="#050505" stroke-width="0.7"/>
<ellipse cx="381.8" cy="542.6" rx="1.3" ry="1.9" fill="#cfcfcf" stroke="#050505" stroke-width="0.5"/>
<ellipse cx="406.7" cy="543.6" rx="8" ry="17.3" fill="#8d7c1e" stroke="#3a3208" stroke-width="0.7"/>
<path d="M406.7 530.5 L406.7 543.5" stroke="#1e1a04" stroke-width="1.8" stroke-linecap="round"/><ellipse cx="406.7" cy="544.2" rx="1.7" ry="2" fill="#1e1a04"/>
<path d="M469 528.8 L527.8 454 L529.8 452 C528.1 456.6 522.4 470.3 519.9 479.9 C517.4 489.5 516.2 499.8 514.9 509.8 C513.6 519.8 512.7 528.3 512.3 540.0 C511.9 551.7 512.0 566.6 512.6 579.9 C513.2 593.2 514.4 609.2 515.9 619.8 C517.4 630.4 520.8 639.7 521.8 643.7 L472 564 Q465.6 546.5 469 528.8 Z" fill="url(#gConeR)" stroke="#10181c" stroke-width="1" stroke-linejoin="round"/>
<path d="M529.8 452 Q532.5 448.6 538.5 448.3 L576.2 447.8 L594.5 466.8 C594.9 467.3 596.5 467.9 597.3 469.9 C598.2 471.8 599.0 474.9 599.7 478.6 C600.4 482.4 601.0 487.1 601.5 492.4 C601.9 497.7 602.3 503.9 602.5 510.4 C602.7 516.8 602.7 524.0 602.6 531.2 C602.6 538.4 602.3 546.1 602.0 553.5 C601.6 561.0 601.1 568.7 600.5 575.8 C599.9 583.0 599.2 590.2 598.4 596.6 C597.6 603.0 596.7 609.1 595.7 614.3 C594.8 619.6 593.7 624.3 592.7 627.9 C591.6 631.6 590.5 634.5 589.5 636.4 C588.4 638.3 586.9 638.7 586.3 639.2 L582 643.6 L574 650 L565.7 655.7 L539.8 654.2 Q528 652 521.8 643.7 C520.8 639.7 517.4 630.4 515.9 619.8 C514.4 609.2 513.2 593.2 512.6 579.9 C512.0 566.6 511.9 551.7 512.3 540.0 C512.7 528.3 513.6 519.8 514.9 509.8 C516.2 499.8 517.4 489.5 519.9 479.9 C522.4 470.3 528.1 456.6 529.8 452.0 Z" fill="url(#gGirdleR)" stroke="#10181c" stroke-width="1" stroke-linejoin="round"/>
<path d="M570.0 448.3 C568.6 453.6 564.0 469.6 561.7 479.9 C559.4 490.1 557.7 499.8 556.3 509.8 C554.9 519.8 553.9 528.0 553.4 539.7 C552.9 551.4 553.0 566.5 553.4 579.9 C553.8 593.2 554.5 608.8 555.6 619.8 C556.7 630.8 558.4 640.0 559.7 646.0 C561.1 652.0 563.0 653.9 563.7 655.5" fill="none" stroke="#16222a" stroke-width="0.9"/>
<ellipse cx="590.4" cy="553" rx="12.2" ry="86.9" transform="rotate(2.7 590.4 553)" fill="url(#gTableR)" stroke="#10181c" stroke-width="1"/>
<path d="M439.44 517.77 L440.74 516.86 L442.04 516.51 L443.30 516.73 L444.51 517.51 L445.63 518.83 L446.63 520.68 L447.50 523.01 L448.21 525.78 L448.75 528.93 L449.10 532.39 L449.25 536.11 L449.20 540.00 L448.95 543.98 L448.49 547.99 L447.83 551.93 L446.98 555.72 L445.97 559.30 L444.79 562.59 L443.48 565.53 L442.06 568.05 L440.55 570.10 L438.98 571.65 L437.37 572.66 L435.77 573.12" fill="none" stroke="#83460d" stroke-width="6.20" stroke-linecap="butt" stroke-linejoin="round"/>
<path d="M439.44 517.77 L440.76 516.86 L442.07 516.51 L443.35 516.75 L444.57 517.56 L445.69 518.93 L446.70 520.84 L447.57 523.24 L448.27 526.08 L448.80 529.30 L449.13 532.84 L449.26 536.63 L449.18 540.59 L448.89 544.63 L448.39 548.68 L447.69 552.65 L446.80 556.45 L445.73 560.02 L444.51 563.28 L443.16 566.16 L441.69 568.60 L440.14 570.56 L438.54 571.98 L436.91 572.85 L435.29 573.14" fill="none" stroke="#a45b14" stroke-width="5.08" stroke-linecap="butt" stroke-linejoin="round"/>
<path d="M439.44 517.77 L440.77 516.85 L442.10 516.51 L443.40 516.77 L444.62 517.62 L445.76 519.04 L446.77 521.00 L447.63 523.46 L448.33 526.38 L448.84 529.68 L449.16 533.29 L449.26 537.16 L449.15 541.18 L448.82 545.28 L448.28 549.37 L447.54 553.36 L446.60 557.17 L445.49 560.73 L444.22 563.95 L442.82 566.77 L441.32 569.13 L439.73 570.97 L438.10 572.27 L436.45 572.99 L434.82 573.12" fill="none" stroke="#b86719" stroke-width="3.72" stroke-linecap="butt" stroke-linejoin="round"/>
<path d="M439.44 517.77 L440.79 516.84 L442.13 516.51 L443.44 516.79 L444.68 517.67 L445.82 519.14 L446.84 521.16 L447.70 523.69 L448.39 526.68 L448.89 530.06 L449.18 533.75 L449.26 537.68 L449.11 541.77 L448.75 545.92 L448.17 550.05 L447.38 554.07 L446.40 557.89 L445.24 561.42 L443.93 564.60 L442.49 567.36 L440.94 569.62 L439.32 571.36 L437.66 572.52 L436.00 573.09 L434.35 573.04" fill="none" stroke="#c46f1c" stroke-width="2.17" stroke-linecap="butt" stroke-linejoin="round"/>
<path d="M446.25 518.26 L447.55 517.34 L448.85 516.99 L450.11 517.21 L451.31 517.99 L452.43 519.32 L453.44 521.16 L454.30 523.49 L455.02 526.26 L455.55 529.41 L455.90 532.87 L456.06 536.59 L456.01 540.48 L455.75 544.46 L455.29 548.47 L454.64 552.41 L453.79 556.20 L452.77 559.78 L451.60 563.07 L450.29 566.01 L448.86 568.53 L447.35 570.58 L445.78 572.13 L444.18 573.14 L442.57 573.60" fill="none" stroke="#83460d" stroke-width="6.20" stroke-linecap="butt" stroke-linejoin="round"/>
<path d="M446.25 518.26 L447.56 517.34 L448.88 516.99 L450.16 517.23 L451.37 518.04 L452.50 519.42 L453.51 521.32 L454.37 523.72 L455.08 526.56 L455.60 529.78 L455.93 533.32 L456.06 537.11 L455.98 541.07 L455.69 545.11 L455.19 549.16 L454.49 553.13 L453.60 556.93 L452.54 560.50 L451.32 563.76 L449.96 566.64 L448.50 569.08 L446.95 571.04 L445.35 572.46 L443.72 573.33 L442.10 573.63" fill="none" stroke="#a45b14" stroke-width="5.08" stroke-linecap="butt" stroke-linejoin="round"/>
<path d="M446.25 518.26 L447.58 517.33 L448.91 516.99 L450.20 517.25 L451.43 518.10 L452.56 519.52 L453.57 521.48 L454.44 523.94 L455.14 526.86 L455.65 530.16 L455.96 533.78 L456.06 537.64 L455.95 541.66 L455.63 545.76 L455.09 549.85 L454.34 553.84 L453.41 557.66 L452.30 561.21 L451.03 564.43 L449.63 567.25 L448.12 569.61 L446.54 571.46 L444.91 572.75 L443.26 573.47 L441.63 573.60" fill="none" stroke="#b86719" stroke-width="3.72" stroke-linecap="butt" stroke-linejoin="round"/>
<path d="M446.25 518.26 L447.60 517.32 L448.94 516.99 L450.25 517.27 L451.49 518.15 L452.63 519.62 L453.64 521.64 L454.51 524.17 L455.20 527.16 L455.69 530.54 L455.99 534.23 L456.06 538.16 L455.92 542.25 L455.55 546.40 L454.97 550.53 L454.19 554.55 L453.20 558.37 L452.05 561.90 L450.73 565.08 L449.29 567.84 L447.75 570.10 L446.13 571.84 L444.47 573.00 L442.80 573.57 L441.16 573.53" fill="none" stroke="#c46f1c" stroke-width="2.17" stroke-linecap="butt" stroke-linejoin="round"/>
<path d="M462.81 540.96 L462.71 542.94 L462.56 544.95 L462.35 546.95 L462.10 548.95 L461.79 550.93 L461.44 552.89 L461.04 554.81 L460.60 556.68 L460.11 558.51 L459.58 560.26 L459.01 561.95 L458.40 563.55 L457.76 565.07 L457.09 566.49 L456.39 567.80 L455.67 569.01 L454.92 570.10 L454.16 571.06 L453.38 571.90 L452.59 572.61 L451.79 573.19 L450.98 573.63 L450.18 573.92 L449.38 574.08" fill="none" stroke="#83460d" stroke-width="6.20" stroke-linecap="butt" stroke-linejoin="round"/>
<path d="M462.81 540.96 L462.71 542.99 L462.55 545.04 L462.34 547.10 L462.07 549.15 L461.75 551.17 L461.38 553.18 L460.97 555.14 L460.50 557.05 L459.99 558.91 L459.44 560.69 L458.85 562.40 L458.22 564.02 L457.55 565.54 L456.85 566.96 L456.13 568.27 L455.38 569.46 L454.60 570.52 L453.81 571.46 L453.01 572.26 L452.19 572.92 L451.37 573.43 L450.55 573.81 L449.72 574.03 L448.90 574.11" fill="none" stroke="#a45b14" stroke-width="5.08" stroke-linecap="butt" stroke-linejoin="round"/>
<path d="M462.81 540.96 L462.70 543.04 L462.54 545.14 L462.32 547.25 L462.04 549.34 L461.71 551.42 L461.33 553.46 L460.89 555.47 L460.41 557.42 L459.88 559.30 L459.30 561.11 L458.68 562.84 L458.03 564.47 L457.34 566.00 L456.61 567.41 L455.86 568.71 L455.08 569.88 L454.28 570.92 L453.46 571.82 L452.63 572.58 L451.79 573.18 L450.95 573.64 L450.11 573.94 L449.26 574.09 L448.43 574.08" fill="none" stroke="#b86719" stroke-width="3.72" stroke-linecap="butt" stroke-linejoin="round"/>
<path d="M462.81 540.96 L462.70 543.09 L462.53 545.24 L462.30 547.40 L462.01 549.54 L461.67 551.66 L461.27 553.75 L460.82 555.79 L460.31 557.78 L459.76 559.69 L459.16 561.53 L458.52 563.27 L457.83 564.91 L457.12 566.44 L456.36 567.86 L455.58 569.14 L454.78 570.29 L453.95 571.30 L453.11 572.16 L452.26 572.87 L451.40 573.42 L450.53 573.81 L449.67 574.04 L448.81 574.11 L447.96 574.01" fill="none" stroke="#c46f1c" stroke-width="2.17" stroke-linecap="butt" stroke-linejoin="round"/>
<path d="M462.81 541.52 L461.91 439.50" fill="none" stroke="#83460d" stroke-width="6.20" stroke-linecap="butt" stroke-linejoin="round"/>
<path d="M462.81 542.70 L461.91 439.50" fill="none" stroke="#a45b14" stroke-width="5.08" stroke-linecap="butt" stroke-linejoin="round"/>
<path d="M462.81 543.88 L461.91 439.50" fill="none" stroke="#b86719" stroke-width="3.72" stroke-linecap="butt" stroke-linejoin="round"/>
<path d="M462.81 545.06 L461.91 439.50" fill="none" stroke="#c46f1c" stroke-width="2.17" stroke-linecap="butt" stroke-linejoin="round"/>
<path d="M438.62 571.92 L437.82 572.44 L437.02 572.81 L436.21 573.05 L435.41 573.14 L434.62 573.09 L433.84 572.90 L433.08 572.57 L432.33 572.10 L431.61 571.50 L430.91 570.75 L430.24 569.88 L429.60 568.89 L428.99 567.77 L428.42 566.53 L427.89 565.19 L427.40 563.75 L426.96 562.20 L426.56 560.58 L426.21 558.87 L425.90 557.09 L425.65 555.25 L425.44 553.35 L425.29 551.41 L425.19 549.44 L425.19 545.92" fill="none" stroke="#83460d" stroke-width="6.20" stroke-linecap="butt" stroke-linejoin="round"/>
<path d="M438.62 571.92 L437.82 572.44 L437.02 572.81 L436.21 573.05 L435.41 573.14 L434.62 573.09 L433.84 572.90 L433.08 572.57 L432.33 572.10 L431.61 571.50 L430.91 570.75 L430.24 569.88 L429.60 568.89 L428.99 567.77 L428.42 566.53 L427.89 565.19 L427.40 563.75 L426.96 562.20 L426.56 560.58 L426.21 558.87 L425.90 557.09 L425.65 555.25 L425.44 553.35 L425.29 551.41 L425.19 549.44 L425.19 545.92" fill="none" stroke="#a45b14" stroke-width="5.08" stroke-linecap="butt" stroke-linejoin="round"/>
<path d="M438.62 571.92 L437.82 572.44 L437.02 572.81 L436.21 573.05 L435.41 573.14 L434.62 573.09 L433.84 572.90 L433.08 572.57 L432.33 572.10 L431.61 571.50 L430.91 570.75 L430.24 569.88 L429.60 568.89 L428.99 567.77 L428.42 566.53 L427.89 565.19 L427.40 563.75 L426.96 562.20 L426.56 560.58 L426.21 558.87 L425.90 557.09 L425.65 555.25 L425.44 553.35 L425.29 551.41 L425.19 549.44 L425.19 545.92" fill="none" stroke="#b86719" stroke-width="3.72" stroke-linecap="butt" stroke-linejoin="round"/>
<path d="M438.62 571.92 L437.82 572.44 L437.02 572.81 L436.21 573.05 L435.41 573.14 L434.62 573.09 L433.84 572.90 L433.08 572.57 L432.33 572.10 L431.61 571.50 L430.91 570.75 L430.24 569.88 L429.60 568.89 L428.99 567.77 L428.42 566.53 L427.89 565.19 L427.40 563.75 L426.96 562.20 L426.56 560.58 L426.21 558.87 L425.90 557.09 L425.65 555.25 L425.44 553.35 L425.29 551.41 L425.19 549.44 L425.19 545.92" fill="none" stroke="#c46f1c" stroke-width="2.17" stroke-linecap="butt" stroke-linejoin="round"/>
<path d="M425.19 550.00 L422.79 439.50" fill="none" stroke="#83460d" stroke-width="6.20" stroke-linecap="butt" stroke-linejoin="round"/>
<path d="M425.19 550.00 L422.79 439.50" fill="none" stroke="#a45b14" stroke-width="5.08" stroke-linecap="butt" stroke-linejoin="round"/>
<path d="M425.19 550.00 L422.79 439.50" fill="none" stroke="#b86719" stroke-width="3.72" stroke-linecap="butt" stroke-linejoin="round"/>
<path d="M425.19 550.00 L422.79 439.50" fill="none" stroke="#c46f1c" stroke-width="2.17" stroke-linecap="butt" stroke-linejoin="round"/>
<path d="M445.43 572.40 L443.82 573.29 L442.22 573.62 L440.65 573.38 L439.14 572.58 L437.71 571.24 L436.40 569.37 L435.23 567.02 L434.21 564.23 L433.36 561.06 L432.71 557.57 L432.25 553.83 L431.99 549.92 L431.94 545.91 L432.10 541.89 L432.45 537.93 L432.98 534.11 L433.70 530.51 L434.56 527.20 L435.57 524.24 L436.69 521.70 L437.89 519.62 L439.15 518.05 L440.45 517.02 L441.75 516.54" fill="none" stroke="#83460d" stroke-width="6.20" stroke-linecap="butt" stroke-linejoin="round"/>
<path d="M445.43 572.40 L443.80 573.30 L442.18 573.62 L440.59 573.37 L439.06 572.53 L437.63 571.13 L436.31 569.21 L435.13 566.79 L434.12 563.93 L433.28 560.68 L432.64 557.12 L432.20 553.31 L431.97 549.33 L431.95 545.26 L432.14 541.19 L432.53 537.20 L433.11 533.37 L433.87 529.78 L434.78 526.50 L435.82 523.60 L436.98 521.14 L438.21 519.16 L439.51 517.71 L440.82 516.82 L442.14 516.51" fill="none" stroke="#a45b14" stroke-width="5.08" stroke-linecap="butt" stroke-linejoin="round"/>
<path d="M445.43 572.40 L443.78 573.31 L442.14 573.62 L440.53 573.34 L438.99 572.47 L437.54 571.03 L436.22 569.05 L435.04 566.56 L434.03 563.63 L433.20 560.30 L432.57 556.66 L432.16 552.78 L431.96 548.73 L431.97 544.61 L432.20 540.50 L432.62 536.49 L433.25 532.65 L434.04 529.07 L435.00 525.83 L436.08 522.99 L437.27 520.61 L438.54 518.74 L439.86 517.42 L441.20 516.68 L442.52 516.53" fill="none" stroke="#b86719" stroke-width="3.72" stroke-linecap="butt" stroke-linejoin="round"/>
<path d="M445.43 572.40 L443.76 573.32 L442.10 573.63 L440.47 573.32 L438.92 572.42 L437.46 570.93 L436.13 568.88 L434.95 566.33 L433.94 563.32 L433.12 559.92 L432.51 556.20 L432.12 552.25 L431.94 548.14 L431.99 543.96 L432.25 539.81 L432.72 535.77 L433.39 531.93 L434.23 528.37 L435.22 525.17 L436.35 522.40 L437.58 520.11 L438.88 518.35 L440.22 517.16 L441.57 516.57 L442.89 516.60" fill="none" stroke="#c46f1c" stroke-width="2.17" stroke-linecap="butt" stroke-linejoin="round"/>
<path d="M452.23 572.89 L450.63 573.78 L449.02 574.10 L447.45 573.87 L445.94 573.06 L444.52 571.72 L443.21 569.85 L442.03 567.50 L441.02 564.71 L440.17 561.54 L439.51 558.05 L439.05 554.31 L438.80 550.40 L438.75 546.40 L438.90 542.37 L439.25 538.41 L439.79 534.59 L440.50 530.99 L441.37 527.68 L442.37 524.72 L443.49 522.18 L444.70 520.10 L445.96 518.53 L447.26 517.50 L448.56 517.02" fill="none" stroke="#83460d" stroke-width="6.20" stroke-linecap="butt" stroke-linejoin="round"/>
<path d="M452.23 572.89 L450.61 573.78 L448.98 574.11 L447.39 573.85 L445.87 573.01 L444.43 571.62 L443.12 569.69 L441.94 567.27 L440.92 564.41 L440.09 561.16 L439.45 557.60 L439.01 553.79 L438.78 549.81 L438.76 545.75 L438.95 541.68 L439.34 537.69 L439.92 533.86 L440.67 530.26 L441.58 526.98 L442.63 524.08 L443.78 521.62 L445.02 519.64 L446.31 518.20 L447.63 517.31 L448.94 516.99" fill="none" stroke="#a45b14" stroke-width="5.08" stroke-linecap="butt" stroke-linejoin="round"/>
<path d="M452.23 572.89 L450.59 573.79 L448.94 574.11 L447.34 573.83 L445.80 572.96 L444.35 571.51 L443.02 569.53 L441.84 567.04 L440.83 564.11 L440.01 560.78 L439.38 557.14 L438.96 553.26 L438.76 549.22 L438.78 545.09 L439.00 540.98 L439.43 536.97 L440.05 533.13 L440.85 529.55 L441.80 526.31 L442.89 523.47 L444.08 521.09 L445.35 519.22 L446.67 517.90 L448.00 517.16 L449.32 517.01" fill="none" stroke="#b86719" stroke-width="3.72" stroke-linecap="butt" stroke-linejoin="round"/>
<path d="M452.23 572.89 L450.57 573.80 L448.91 574.11 L447.28 573.80 L445.72 572.90 L444.26 571.41 L442.93 569.36 L441.75 566.81 L440.74 563.80 L439.93 560.40 L439.32 556.68 L438.92 552.73 L438.75 548.62 L438.80 544.44 L439.06 540.29 L439.53 536.25 L440.19 532.41 L441.03 528.86 L442.03 525.65 L443.15 522.88 L444.38 520.59 L445.68 518.83 L447.02 517.64 L448.37 517.06 L449.70 517.08" fill="none" stroke="#c46f1c" stroke-width="2.17" stroke-linecap="butt" stroke-linejoin="round"/>
<line x1="459.7" y1="541.0" x2="465.9" y2="541.0" stroke="#7a1408" stroke-width="0.7"/>
<line x1="452.9" y1="540.5" x2="459.1" y2="540.5" stroke="#7a1408" stroke-width="0.7"/>
<line x1="446.1" y1="540.0" x2="452.3" y2="540.0" stroke="#7a1408" stroke-width="0.7"/>
<line x1="422.1" y1="549.4" x2="428.3" y2="549.4" stroke="#7a1408" stroke-width="0.7"/>
<rect x="392.5" y="510.3" width="80" height="72.2" stroke="#000" stroke-width="2.3" stroke-dasharray="4.5 3" fill="none"/>
<path d="M218.5 401.8 L392.5 510.3" stroke="#000" stroke-width="2.3" stroke-dasharray="4.5 3" fill="none"/>
<path d="M646.5 401.8 L472.5 510.3" stroke="#000" stroke-width="2.3" stroke-dasharray="4.5 3" fill="none"/>
<path d="M628.3 542.2 L629.2 474 L643.2 474 L641.8 542.2 Q635 544 628.3 542.2 Z" fill="url(#gBlueShaft)"/>
<path d="M637.8 441.2 L650.6 473 Q637 479 623 473.5 Z" fill="url(#gBlueHead)" stroke="#0a1a70" stroke-width="0.6"/>
<path d="M651 549.2 L723.5 551 L723.5 564.8 L651 561.6 Q649.5 555 651 549.2 Z" fill="url(#gRedShaft)"/>
<path d="M723.4 544.6 L762.8 559 L723.4 572 Q720.5 558 723.4 544.6 Z" fill="url(#gRedHead)" stroke="#500808" stroke-width="1.1"/>
<text x="650.6" y="456.8" font-size="35.5" fill="#3c37cd">B<tspan font-size="23" dy="7.1">0</tspan></text>
<text x="764.8" y="594.6" font-size="35.4" fill="#e13241">B<tspan font-size="22.8" dx="1.2" dy="7.2">1</tspan></text>
<line x1="132.0" y1="649.0" x2="179.2" y2="580.7" stroke="#e0101e" stroke-width="1.8"/>
<circle cx="179.2" cy="580.7" r="4.4" fill="#f40408"/>
<line x1="381.0" y1="702.0" x2="351.6" y2="608.3" stroke="#e0101e" stroke-width="1.8"/>
<circle cx="351.6" cy="608.3" r="4.4" fill="#f40408"/>
<line x1="635.4" y1="722.0" x2="547.0" y2="631.0" stroke="#e0101e" stroke-width="1.8"/>
<circle cx="547.0" cy="631.0" r="4.4" fill="#f40408"/>
<text x="131.5" y="679.8" font-size="30.4" text-anchor="middle" fill="#000" >diamond anvil</text>
<text x="132.2" y="719.7" font-size="30.4" text-anchor="middle" fill="#000" textLength="183.5">(250 μm culet)</text>
<text x="279.4" y="728.7" font-size="30.4" text-anchor="start" fill="#000" >rhenium gasket</text>
<text x="618.5" y="748.0" font-size="30.4" text-anchor="middle" fill="#000" >diamond anvil</text>
<text x="618.5" y="787.0" font-size="30.4" text-anchor="middle" fill="#000" textLength="184">(800 μm culet)</text>
<rect x="419.1" y="616.0" width="41" height="2.7" fill="#cf1a22"/>
<text x="438.7" y="642.6" font-size="30.4" text-anchor="middle" fill="#cf1a22" textLength="73">1 mm</text>
</svg>
</body></html>
